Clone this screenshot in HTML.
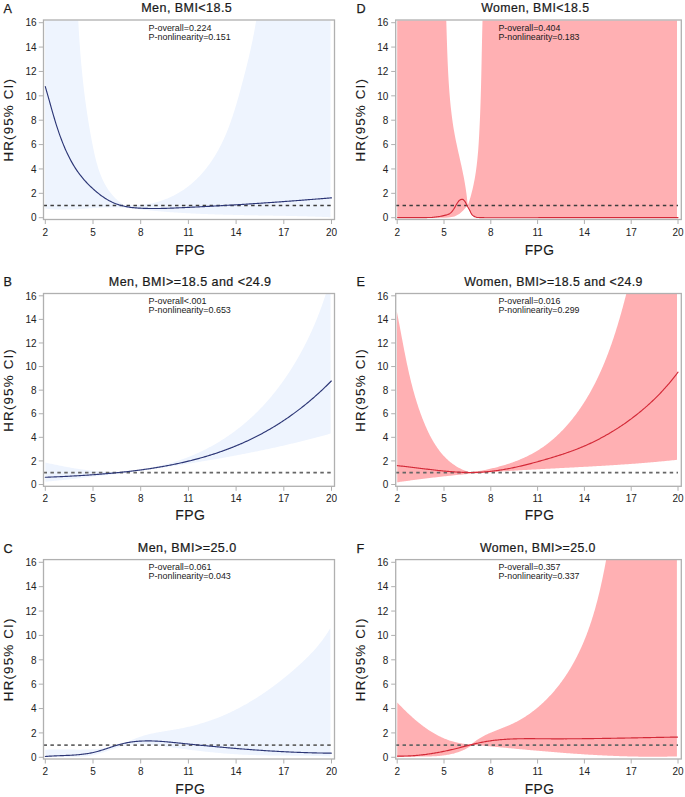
<!DOCTYPE html>
<html><head><meta charset="utf-8"><style>
html,body{margin:0;padding:0;background:#fff;}
body{width:685px;height:797px;overflow:hidden;}
svg{display:block;}
text{font-family:"Liberation Sans",sans-serif;fill:#1a1a1a;}
.tl{font-size:10px;fill:#222;}
.al{font-size:14px;letter-spacing:0.5px;stroke:#1a1a1a;stroke-width:0.12px;}
.hr{font-size:13.4px;letter-spacing:1.15px;stroke:#1a1a1a;stroke-width:0.1px;}
.ti{font-size:12.3px;letter-spacing:0.42px;stroke:#1a1a1a;stroke-width:0.22px;}
.cL .ti{font-size:12.55px;letter-spacing:0.43px;}
.cR .pv{font-size:8.8px;}
.cR .al{font-size:13.8px;}
.le{font-size:12.6px;stroke:#1a1a1a;stroke-width:0.25px;}
.pv{font-size:8.95px;}
</style></head><body>
<svg width="685" height="797" viewBox="0 0 685 797">
<rect width="685" height="797" fill="#fff"/>
<clipPath id="clipA"><rect x="44" y="20.5" width="290" height="198.5"/></clipPath>
<g clip-path="url(#clipA)">
<polygon points="45.1,2 77.41,1.93 77.46,2.94 77.5,3.96 77.54,4.97 77.58,5.98 77.62,7 77.67,8.01 77.71,9.02 77.76,10.03 77.8,11.04 77.85,12.05 77.9,13.06 77.94,14.07 77.99,15.08 78.04,16.09 78.09,17.1 78.14,18.11 78.19,19.12 78.24,20.12 78.29,21.13 78.35,22.14 78.4,23.14 78.45,24.15 78.51,25.15 78.57,26.16 78.62,27.16 78.68,28.17 78.74,29.17 78.8,30.18 78.85,31.18 78.91,32.18 78.98,33.18 79.04,34.19 79.1,35.19 79.16,36.19 79.23,37.19 79.29,38.19 79.36,39.19 79.42,40.19 79.49,41.19 79.56,42.19 79.63,43.19 79.7,44.19 79.77,45.19 79.84,46.19 79.91,47.19 79.99,48.19 80.06,49.18 80.14,50.18 80.21,51.18 80.29,52.18 80.37,53.17 80.45,54.17 80.53,55.17 80.61,56.16 80.69,57.16 80.77,58.16 80.86,59.15 80.94,60.15 81.03,61.14 81.12,62.14 81.2,63.14 81.29,64.13 81.38,65.13 81.47,66.12 81.56,67.12 81.66,68.11 81.75,69.1 81.85,70.1 81.94,71.09 82.04,72.09 82.14,73.08 82.24,74.08 82.34,75.07 82.44,76.06 82.54,77.06 82.65,78.05 82.75,79.04 82.86,80.04 82.96,81.03 83.07,82.02 83.18,83.02 83.29,84.01 83.41,85 83.52,86 83.63,86.99 83.75,87.98 83.86,88.98 83.98,89.97 84.1,90.96 84.22,91.96 84.34,92.95 84.47,93.94 84.59,94.94 84.72,95.93 84.84,96.92 84.97,97.92 85.1,98.91 85.23,99.9 85.36,100.9 85.49,101.89 85.63,102.88 85.76,103.88 85.9,104.87 86.04,105.87 86.18,106.86 86.32,107.85 86.46,108.85 86.61,109.84 86.75,110.84 86.9,111.83 87.05,112.83 87.2,113.82 87.35,114.82 87.5,115.81 87.65,116.81 87.81,117.8 87.96,118.8 88.12,119.79 88.28,120.79 88.44,121.78 88.6,122.78 88.77,123.78 88.93,124.77 89.1,125.77 89.27,126.77 89.44,127.77 89.61,128.76 89.78,129.76 89.95,130.76 90.13,131.76 90.31,132.75 90.49,133.75 90.67,134.75 90.85,135.75 91.03,136.75 91.22,137.75 91.4,138.75 91.59,139.75 91.78,140.75 91.97,141.75 92.17,142.75 92.36,143.75 92.56,144.76 92.75,145.76 92.95,146.76 93.16,147.76 93.36,148.76 93.57,149.76 93.78,150.76 93.99,151.76 94.21,152.76 94.43,153.76 94.66,154.75 94.89,155.75 95.12,156.74 95.36,157.73 95.6,158.72 95.85,159.7 96.1,160.68 96.36,161.66 96.62,162.64 96.89,163.61 97.17,164.59 97.45,165.55 97.74,166.52 98.03,167.48 98.33,168.43 98.64,169.38 98.96,170.33 99.29,171.27 99.62,172.21 99.96,173.15 100.31,174.07 100.67,175 101.03,175.92 101.41,176.83 101.79,177.73 102.19,178.63 102.59,179.53 103.01,180.42 103.43,181.3 103.87,182.17 104.31,183.04 104.77,183.9 105.24,184.76 105.72,185.6 106.21,186.44 106.71,187.27 107.22,188.09 107.75,188.91 108.29,189.72 108.84,190.51 109.4,191.3 109.98,192.08 110.57,192.86 111.18,193.62 111.8,194.37 112.43,195.12 113.08,195.85 113.74,196.57 114.41,197.29 115.1,197.99 115.81,198.68 116.53,199.37 117.27,200.04 118.02,200.7 118.79,201.35 119.58,201.99 120.38,202.61 121.2,203.23 122.03,203.83 122.88,204.42 123.75,205 124.64,205.57 125.55,206.12 125.65,204.97 126.7,205.04 127.76,205.11 128.81,205.16 129.86,205.21 130.91,205.23 131.95,205.25 133,205.26 134.04,205.25 135.08,205.23 136.12,205.2 137.15,205.16 138.18,205.11 139.21,205.04 140.24,204.97 141.27,204.88 142.29,204.78 143.31,204.67 144.32,204.55 145.34,204.41 146.35,204.27 147.35,204.11 148.36,203.95 149.36,203.77 150.35,203.58 151.35,203.38 152.34,203.17 153.32,202.95 154.3,202.72 155.28,202.48 156.26,202.22 157.23,201.96 158.19,201.68 159.16,201.4 160.11,201.1 161.07,200.8 162.02,200.48 162.96,200.16 163.9,199.82 164.84,199.48 165.77,199.12 166.7,198.75 167.62,198.38 168.53,197.99 169.45,197.6 170.35,197.19 171.25,196.77 172.15,196.35 173.04,195.92 173.92,195.47 174.8,195.02 175.68,194.56 176.55,194.08 177.41,193.6 178.27,193.11 179.12,192.61 179.96,192.1 180.8,191.58 181.63,191.06 182.46,190.52 183.28,189.98 184.09,189.42 184.9,188.86 185.7,188.29 186.5,187.71 187.28,187.12 188.06,186.52 188.84,185.92 189.61,185.31 190.37,184.68 191.13,184.06 191.88,183.42 192.62,182.77 193.36,182.12 194.09,181.46 194.81,180.8 195.53,180.12 196.24,179.44 196.95,178.75 197.65,178.06 198.34,177.35 199.03,176.64 199.71,175.93 200.38,175.21 201.05,174.48 201.71,173.74 202.37,173 203.02,172.25 203.66,171.5 204.3,170.74 204.93,169.97 205.55,169.2 206.17,168.43 206.78,167.64 207.39,166.86 207.99,166.06 208.59,165.27 209.17,164.46 209.76,163.65 210.33,162.84 210.9,162.02 211.46,161.2 212.02,160.37 212.57,159.54 213.12,158.71 213.66,157.87 214.19,157.02 214.72,156.17 215.24,155.32 215.76,154.46 216.27,153.6 216.77,152.74 217.27,151.87 217.76,151 218.25,150.13 218.73,149.25 219.2,148.37 219.67,147.49 220.13,146.6 220.59,145.71 221.04,144.82 221.48,143.92 221.92,143.03 222.36,142.12 222.79,141.22 223.21,140.32 223.63,139.41 224.05,138.5 224.46,137.58 224.86,136.67 225.26,135.75 225.65,134.83 226.05,133.9 226.43,132.98 226.81,132.05 227.19,131.12 227.56,130.19 227.93,129.25 228.3,128.32 228.66,127.38 229.01,126.44 229.37,125.5 229.71,124.56 230.06,123.61 230.4,122.66 230.74,121.72 231.07,120.77 231.4,119.82 231.73,118.86 232.05,117.91 232.38,116.95 232.69,116 233.01,115.04 233.32,114.08 233.63,113.12 233.94,112.16 234.24,111.2 234.54,110.23 234.84,109.27 235.14,108.3 235.43,107.34 235.72,106.37 236.01,105.41 236.3,104.44 236.58,103.47 236.87,102.5 237.15,101.53 237.43,100.56 237.7,99.59 237.98,98.62 238.25,97.65 238.53,96.68 238.8,95.71 239.07,94.74 239.34,93.76 239.61,92.79 239.87,91.82 240.14,90.85 240.4,89.88 240.67,88.91 240.93,87.94 241.19,86.97 241.45,86 241.71,85.03 241.97,84.06 242.23,83.09 242.49,82.12 242.75,81.15 243.01,80.18 243.26,79.21 243.52,78.24 243.77,77.28 244.03,76.31 244.28,75.34 244.53,74.37 244.78,73.4 245.03,72.44 245.28,71.47 245.52,70.5 245.77,69.53 246.01,68.57 246.26,67.6 246.5,66.63 246.74,65.67 246.98,64.7 247.22,63.73 247.46,62.76 247.69,61.8 247.93,60.83 248.16,59.86 248.39,58.89 248.62,57.93 248.85,56.96 249.08,55.99 249.3,55.02 249.53,54.05 249.75,53.08 249.97,52.12 250.19,51.15 250.41,50.18 250.63,49.21 250.84,48.24 251.05,47.27 251.27,46.3 251.48,45.33 251.68,44.36 251.89,43.38 252.09,42.41 252.3,41.44 252.5,40.47 252.7,39.5 252.89,38.52 253.09,37.55 253.28,36.57 253.47,35.6 253.66,34.63 253.85,33.65 254.03,32.67 254.22,31.7 254.4,30.72 254.58,29.74 254.75,28.76 254.93,27.79 255.1,26.81 255.27,25.83 255.44,24.85 255.6,23.87 255.77,22.88 255.93,21.9 256.09,20.92 256.24,19.94 256.4,18.95 256.55,17.97 256.7,16.98 256.84,15.99 256.99,15.01 257.13,14.02 257.27,13.03 257.41,12.04 257.54,11.05 257.67,10.06 257.8,9.07 257.93,8.07 258.05,7.08 258.17,6.09 258.29,5.09 258.4,4.09 258.52,3.1 258.63,2.1 258.2,2 330.5,2 330.5,217.2 330.49,217.25 329.49,217.21 328.49,217.16 327.49,217.12 326.49,217.07 325.49,217.03 324.49,216.99 323.49,216.95 322.49,216.91 321.49,216.87 320.49,216.83 319.49,216.8 318.49,216.76 317.49,216.72 316.49,216.69 315.49,216.65 314.49,216.62 313.49,216.59 312.49,216.55 311.49,216.52 310.49,216.49 309.49,216.46 308.48,216.43 307.48,216.4 306.48,216.37 305.48,216.34 304.48,216.31 303.48,216.29 302.48,216.26 301.47,216.23 300.47,216.21 299.47,216.18 298.47,216.16 297.47,216.13 296.46,216.11 295.46,216.08 294.46,216.06 293.46,216.04 292.45,216.01 291.45,215.99 290.45,215.97 289.45,215.95 288.44,215.93 287.44,215.91 286.44,215.89 285.43,215.86 284.43,215.84 283.43,215.83 282.42,215.81 281.42,215.79 280.42,215.77 279.41,215.75 278.41,215.73 277.41,215.71 276.4,215.69 275.4,215.68 274.4,215.66 273.39,215.64 272.39,215.62 271.39,215.6 270.38,215.59 269.38,215.57 268.37,215.55 267.37,215.54 266.37,215.52 265.36,215.5 264.36,215.48 263.36,215.47 262.35,215.45 261.35,215.43 260.34,215.42 259.34,215.4 258.34,215.38 257.33,215.36 256.33,215.35 255.32,215.33 254.32,215.31 253.32,215.29 252.31,215.28 251.31,215.26 250.3,215.24 249.3,215.22 248.3,215.2 247.29,215.18 246.29,215.16 245.28,215.15 244.28,215.13 243.27,215.11 242.27,215.09 241.27,215.07 240.26,215.05 239.26,215.02 238.25,215 237.25,214.98 236.25,214.96 235.24,214.94 234.24,214.92 233.24,214.89 232.23,214.87 231.23,214.85 230.22,214.82 229.22,214.8 228.22,214.77 227.21,214.75 226.21,214.72 225.21,214.7 224.2,214.67 223.2,214.64 222.2,214.61 221.19,214.58 220.19,214.56 219.19,214.53 218.18,214.5 217.18,214.47 216.18,214.43 215.17,214.4 214.17,214.37 213.17,214.34 212.16,214.3 211.16,214.27 210.16,214.23 209.16,214.2 208.15,214.16 207.15,214.12 206.15,214.09 205.15,214.05 204.14,214.01 203.14,213.97 202.14,213.93 201.14,213.88 200.13,213.84 199.13,213.8 198.13,213.75 197.13,213.71 196.13,213.66 195.13,213.62 194.12,213.57 193.12,213.52 192.12,213.47 191.12,213.42 190.12,213.37 189.12,213.32 188.12,213.26 187.12,213.21 186.12,213.15 185.12,213.1 184.12,213.04 183.11,212.98 182.11,212.92 181.11,212.86 180.11,212.8 179.11,212.74 178.11,212.67 177.11,212.61 176.12,212.54 175.12,212.48 174.12,212.41 173.12,212.34 172.12,212.27 171.12,212.2 170.12,212.13 169.12,212.05 168.12,211.98 167.12,211.9 166.13,211.82 165.13,211.74 164.13,211.66 163.13,211.58 162.13,211.5 161.14,211.41 160.14,211.33 159.14,211.24 158.15,211.15 157.15,211.06 156.15,210.97 155.16,210.88 154.16,210.79 153.16,210.69 152.17,210.6 151.17,210.5 150.17,210.4 149.18,210.3 148.18,210.2 147.19,210.09 146.19,209.99 145.2,209.88 144.2,209.77 143.21,209.66 142.21,209.55 141.22,209.44 140.23,209.33 139.23,209.22 138.24,209.11 137.24,209 136.25,208.89 135.26,208.78 134.26,208.67 133.27,208.57 132.28,208.47 131.28,208.37 130.29,208.27 129.3,208.18 128.3,208.09 127.31,208.01 126.31,207.92 125.32,207.85 124.33,207.78 123.33,207.71 122.34,207.65 121.35,207.6 120.35,207.55 119.36,207.51 118.37,207.47 117.37,207.44 116.38,207.42 115.38,207.4 114.39,207.39 113.4,207.38 112.4,207.38 111.41,207.38 110.41,207.38 109.42,207.4 108.42,207.41 107.42,207.43 106.43,207.46 105.43,207.49 104.43,207.52 103.44,207.56 102.44,207.6 101.44,207.64 100.45,207.69 99.45,207.74 98.45,207.79 97.45,207.84 96.45,207.9 95.45,207.96 94.45,208.02 93.45,208.08 92.45,208.15 91.45,208.21 90.45,208.28 89.45,208.35 88.44,208.41 87.44,208.48 86.44,208.55 85.44,208.62 84.43,208.68 83.43,208.75 82.43,208.82 81.43,208.88 80.42,208.95 79.42,209.01 78.42,209.07 77.41,209.13 76.41,209.18 75.4,209.24 74.4,209.29 73.4,209.34 72.39,209.38 71.39,209.42 70.38,209.46 69.38,209.5 68.37,209.53 67.37,209.55 66.37,209.58 65.36,209.59 64.36,209.6 63.35,209.61 62.35,209.61 61.35,209.61 60.34,209.6 59.34,209.58 58.33,209.56 57.33,209.53 56.33,209.5 55.32,209.45 54.32,209.4 53.32,209.35 52.31,209.28 51.31,209.21 50.31,209.13 49.3,209.04 48.3,208.94 47.3,208.83 46.3,208.72 45.3,208.59 45.1,208.6" fill="#eef4fe"/>
<line x1="43.5" y1="205.51" x2="331.5" y2="205.51" stroke="#3d3d3d" stroke-width="1.3" stroke-dasharray="3.5 3.42"/>
<polyline points="45.3,86.6 46.3,90.06 47.3,93.57 48.3,97.12 49.3,100.69 50.3,104.27 51.3,107.83 52.3,111.36 53.31,114.84 54.31,118.25 55.31,121.58 56.31,124.8 57.31,127.92 58.31,130.92 59.31,133.82 60.31,136.62 61.31,139.31 62.31,141.91 63.31,144.41 64.31,146.82 65.31,149.15 66.31,151.38 67.32,153.53 68.32,155.61 69.32,157.6 70.32,159.52 71.32,161.37 72.32,163.15 73.32,164.86 74.32,166.51 75.32,168.1 76.32,169.62 77.32,171.09 78.32,172.51 79.32,173.88 80.32,175.2 81.33,176.47 82.33,177.7 83.33,178.89 84.33,180.04 85.33,181.16 86.33,182.24 87.33,183.29 88.33,184.32 89.33,185.32 90.33,186.3 91.33,187.26 92.33,188.19 93.33,189.11 94.33,190.01 95.33,190.88 96.34,191.73 97.34,192.57 98.34,193.37 99.34,194.16 100.34,194.93 101.34,195.67 102.34,196.39 103.34,197.08 104.34,197.76 105.34,198.41 106.34,199.03 107.34,199.63 108.34,200.21 109.34,200.77 110.35,201.3 111.35,201.8 112.35,202.28 113.35,202.73 114.35,203.16 115.35,203.57 116.35,203.95 117.35,204.31 118.35,204.65 119.35,204.97 120.35,205.27 121.35,205.55 122.35,205.81 123.35,206.05 124.36,206.28 125.36,206.49 126.36,206.68 127.36,206.86 128.36,207.03 129.36,207.18 130.36,207.32 131.36,207.45 132.36,207.56 133.36,207.67 134.36,207.77 135.36,207.85 136.36,207.93 137.36,208 138.37,208.07 139.37,208.13 140.37,208.18 141.37,208.23 142.37,208.28 143.37,208.32 144.37,208.36 145.37,208.39 146.37,208.42 147.37,208.44 148.37,208.47 149.37,208.48 150.37,208.5 151.37,208.51 152.37,208.51 153.38,208.52 154.38,208.52 155.38,208.51 156.38,208.51 157.38,208.5 158.38,208.49 159.38,208.47 160.38,208.46 161.38,208.44 162.38,208.42 163.38,208.39 164.38,208.37 165.38,208.34 166.38,208.31 167.39,208.28 168.39,208.24 169.39,208.21 170.39,208.17 171.39,208.14 172.39,208.1 173.39,208.06 174.39,208.02 175.39,207.97 176.39,207.93 177.39,207.89 178.39,207.84 179.39,207.8 180.39,207.76 181.4,207.71 182.4,207.66 183.4,207.62 184.4,207.57 185.4,207.53 186.4,207.48 187.4,207.43 188.4,207.39 189.4,207.34 190.4,207.29 191.4,207.24 192.4,207.19 193.4,207.14 194.4,207.09 195.4,207.05 196.41,207 197.41,206.95 198.41,206.89 199.41,206.84 200.41,206.79 201.41,206.74 202.41,206.69 203.41,206.64 204.41,206.59 205.41,206.53 206.41,206.48 207.41,206.43 208.41,206.37 209.41,206.32 210.42,206.27 211.42,206.21 212.42,206.16 213.42,206.1 214.42,206.05 215.42,205.99 216.42,205.94 217.42,205.88 218.42,205.82 219.42,205.77 220.42,205.71 221.42,205.65 222.42,205.6 223.42,205.54 224.43,205.48 225.43,205.42 226.43,205.36 227.43,205.3 228.43,205.25 229.43,205.19 230.43,205.13 231.43,205.07 232.43,205.01 233.43,204.95 234.43,204.89 235.43,204.82 236.43,204.76 237.43,204.7 238.43,204.64 239.44,204.58 240.44,204.51 241.44,204.45 242.44,204.39 243.44,204.33 244.44,204.26 245.44,204.2 246.44,204.14 247.44,204.07 248.44,204.01 249.44,203.94 250.44,203.88 251.44,203.81 252.44,203.75 253.45,203.68 254.45,203.61 255.45,203.55 256.45,203.48 257.45,203.41 258.45,203.35 259.45,203.28 260.45,203.21 261.45,203.14 262.45,203.08 263.45,203.01 264.45,202.94 265.45,202.87 266.45,202.8 267.46,202.73 268.46,202.66 269.46,202.59 270.46,202.52 271.46,202.45 272.46,202.38 273.46,202.31 274.46,202.24 275.46,202.17 276.46,202.1 277.46,202.03 278.46,201.95 279.46,201.88 280.46,201.81 281.47,201.74 282.47,201.66 283.47,201.59 284.47,201.52 285.47,201.44 286.47,201.37 287.47,201.3 288.47,201.22 289.47,201.15 290.47,201.07 291.47,201 292.47,200.92 293.47,200.85 294.47,200.77 295.47,200.7 296.48,200.62 297.48,200.54 298.48,200.47 299.48,200.39 300.48,200.31 301.48,200.24 302.48,200.16 303.48,200.08 304.48,200 305.48,199.93 306.48,199.85 307.48,199.77 308.48,199.69 309.48,199.61 310.49,199.53 311.49,199.45 312.49,199.37 313.49,199.29 314.49,199.21 315.49,199.13 316.49,199.05 317.49,198.97 318.49,198.89 319.49,198.81 320.49,198.73 321.49,198.65 322.49,198.57 323.49,198.49 324.5,198.4 325.5,198.32 326.5,198.24 327.5,198.16 328.5,198.07 329.5,197.99 330.5,197.91 331.5,197.82" fill="none" stroke="#2c3676" stroke-width="1.15" stroke-linejoin="round" stroke-linecap="round"/>
</g>
<rect x="43.5" y="20" width="291" height="199.5" fill="none" stroke="#b0b0b0" stroke-width="1.3"/>
<line x1="38.8" y1="217.7" x2="43.5" y2="217.7" stroke="#b0b0b0" stroke-width="1"/>
<text x="36.6" y="221.4" class="tl" text-anchor="end">0</text>
<line x1="38.8" y1="193.32" x2="43.5" y2="193.32" stroke="#b0b0b0" stroke-width="1"/>
<text x="36.6" y="197.02" class="tl" text-anchor="end">2</text>
<line x1="38.8" y1="168.95" x2="43.5" y2="168.95" stroke="#b0b0b0" stroke-width="1"/>
<text x="36.6" y="172.65" class="tl" text-anchor="end">4</text>
<line x1="38.8" y1="144.57" x2="43.5" y2="144.57" stroke="#b0b0b0" stroke-width="1"/>
<text x="36.6" y="148.27" class="tl" text-anchor="end">6</text>
<line x1="38.8" y1="120.2" x2="43.5" y2="120.2" stroke="#b0b0b0" stroke-width="1"/>
<text x="36.6" y="123.9" class="tl" text-anchor="end">8</text>
<line x1="38.8" y1="95.82" x2="43.5" y2="95.82" stroke="#b0b0b0" stroke-width="1"/>
<text x="36.6" y="99.52" class="tl" text-anchor="end">10</text>
<line x1="38.8" y1="71.45" x2="43.5" y2="71.45" stroke="#b0b0b0" stroke-width="1"/>
<text x="36.6" y="75.15" class="tl" text-anchor="end">12</text>
<line x1="38.8" y1="47.07" x2="43.5" y2="47.07" stroke="#b0b0b0" stroke-width="1"/>
<text x="36.6" y="50.77" class="tl" text-anchor="end">14</text>
<line x1="38.8" y1="22.7" x2="43.5" y2="22.7" stroke="#b0b0b0" stroke-width="1"/>
<text x="36.6" y="26.4" class="tl" text-anchor="end">16</text>
<line x1="45.3" y1="219.5" x2="45.3" y2="224" stroke="#b0b0b0" stroke-width="1"/>
<text x="45.3" y="235.8" class="tl" text-anchor="middle">2</text>
<line x1="93" y1="219.5" x2="93" y2="224" stroke="#b0b0b0" stroke-width="1"/>
<text x="93" y="235.8" class="tl" text-anchor="middle">5</text>
<line x1="140.7" y1="219.5" x2="140.7" y2="224" stroke="#b0b0b0" stroke-width="1"/>
<text x="140.7" y="235.8" class="tl" text-anchor="middle">8</text>
<line x1="188.4" y1="219.5" x2="188.4" y2="224" stroke="#b0b0b0" stroke-width="1"/>
<text x="188.4" y="235.8" class="tl" text-anchor="middle">11</text>
<line x1="236.1" y1="219.5" x2="236.1" y2="224" stroke="#b0b0b0" stroke-width="1"/>
<text x="236.1" y="235.8" class="tl" text-anchor="middle">14</text>
<line x1="283.8" y1="219.5" x2="283.8" y2="224" stroke="#b0b0b0" stroke-width="1"/>
<text x="283.8" y="235.8" class="tl" text-anchor="middle">17</text>
<line x1="331.5" y1="219.5" x2="331.5" y2="224" stroke="#b0b0b0" stroke-width="1"/>
<text x="331.5" y="235.8" class="tl" text-anchor="middle">20</text>
<g class="cL">
<text x="190.3" y="254.8" class="al" text-anchor="middle">FPG</text>
<text class="hr" text-anchor="middle" transform="translate(13.2,119.75) rotate(-90)">HR(95% CI)</text>
<text x="141.2" y="12.4" class="ti">Men, BMI&lt;18.5</text>
<text x="3.6" y="12.9" class="le">A</text>
<text x="148.5" y="30.7" class="pv">P-overall=0.224</text>
<text x="148.5" y="39.6" class="pv">P-nonlinearity=0.151</text>
</g>
<clipPath id="clipB"><rect x="44" y="294" width="290" height="191.8"/></clipPath>
<g clip-path="url(#clipB)">
<polygon points="45.3,462.58 46.29,462.79 47.27,463.01 48.26,463.22 49.24,463.43 50.23,463.64 51.21,463.85 52.2,464.05 53.18,464.26 54.17,464.46 55.15,464.67 56.14,464.87 57.13,465.07 58.11,465.27 59.1,465.47 60.09,465.67 61.08,465.86 62.06,466.06 63.05,466.25 64.04,466.44 65.03,466.63 66.02,466.81 67.01,467 67.99,467.18 68.98,467.36 69.97,467.53 70.96,467.71 71.95,467.88 72.94,468.05 73.93,468.22 74.92,468.38 75.91,468.55 76.9,468.7 77.89,468.86 78.88,469.01 79.87,469.16 80.86,469.31 81.85,469.46 82.85,469.6 83.84,469.73 84.83,469.87 85.82,470 86.81,470.13 87.8,470.25 88.8,470.37 89.79,470.49 90.78,470.6 91.77,470.71 92.76,470.81 93.76,470.91 94.75,471.01 95.74,471.1 96.73,471.19 97.73,471.28 98.72,471.36 99.71,471.43 100.71,471.5 101.7,471.57 102.69,471.63 103.68,471.69 104.68,471.74 105.67,471.79 106.66,471.83 107.66,471.87 108.65,471.9 109.64,471.93 110.64,471.95 111.63,471.97 112.62,471.98 113.62,471.98 114.61,471.99 115.6,471.98 116.6,471.97 117.59,471.95 118.58,471.93 119.58,471.9 120.57,471.87 121.56,471.83 122.56,471.79 123.55,471.73 124.54,471.68 125.54,471.61 126.53,471.54 127.52,471.46 128.52,471.38 129.51,471.29 130.5,471.19 131.5,471.09 132.49,470.98 133.48,470.87 134.48,470.75 135.47,470.62 136.46,470.49 137.45,470.36 138.44,470.21 139.43,470.06 140.43,469.91 141.42,469.75 142.41,469.59 143.4,469.42 144.39,469.24 145.38,469.07 146.37,468.88 147.35,468.69 148.34,468.5 149.33,468.3 150.32,468.1 151.3,467.89 152.29,467.68 153.27,467.47 154.26,467.25 155.24,467.03 156.23,466.8 157.21,466.57 158.19,466.33 159.17,466.1 160.15,465.85 161.13,465.61 162.11,465.36 163.09,465.11 164.07,464.85 165.04,464.59 166.02,464.33 166.99,464.07 167.97,463.8 168.94,463.52 169.91,463.25 170.88,462.97 171.85,462.68 172.82,462.39 173.78,462.1 174.74,461.81 175.71,461.5 176.67,461.2 177.63,460.89 178.58,460.57 179.54,460.26 180.49,459.93 181.44,459.6 182.39,459.27 183.34,458.93 184.28,458.59 185.22,458.24 186.16,457.89 187.1,457.53 188.04,457.17 188.97,456.8 189.9,456.43 190.83,456.05 191.76,455.67 192.68,455.29 193.6,454.9 194.53,454.5 195.44,454.11 196.36,453.7 197.27,453.29 198.18,452.88 199.09,452.46 200,452.04 200.9,451.61 201.81,451.18 202.7,450.75 203.6,450.31 204.5,449.86 205.39,449.42 206.28,448.96 207.17,448.51 208.05,448.04 208.93,447.58 209.81,447.11 210.69,446.63 211.57,446.15 212.44,445.67 213.31,445.18 214.18,444.69 215.04,444.19 215.91,443.69 216.77,443.19 217.62,442.68 218.48,442.16 219.33,441.65 220.18,441.13 221.03,440.6 221.87,440.07 222.71,439.54 223.55,439 224.39,438.45 225.22,437.91 226.05,437.36 226.88,436.8 227.71,436.24 228.53,435.68 229.35,435.11 230.17,434.54 230.98,433.97 231.79,433.39 232.6,432.81 233.41,432.22 234.21,431.63 235.01,431.04 235.81,430.44 236.6,429.84 237.39,429.23 238.18,428.62 238.97,428.01 239.75,427.39 240.53,426.77 241.31,426.14 242.08,425.51 242.85,424.88 243.62,424.24 244.39,423.6 245.15,422.96 245.91,422.31 246.66,421.66 247.42,421 248.17,420.34 248.91,419.68 249.66,419.02 250.4,418.35 251.14,417.67 251.87,417 252.6,416.31 253.33,415.63 254.06,414.94 254.78,414.25 255.5,413.56 256.21,412.86 256.92,412.16 257.63,411.45 258.34,410.74 259.04,410.03 259.74,409.31 260.44,408.6 261.13,407.87 261.82,407.15 262.51,406.42 263.19,405.69 263.87,404.95 264.55,404.21 265.22,403.47 265.89,402.73 266.56,401.98 267.22,401.23 267.88,400.48 268.54,399.72 269.2,398.96 269.85,398.2 270.5,397.43 271.14,396.66 271.78,395.89 272.42,395.12 273.06,394.34 273.69,393.56 274.32,392.78 274.95,391.99 275.57,391.2 276.19,390.41 276.81,389.62 277.42,388.82 278.03,388.03 278.64,387.23 279.24,386.42 279.85,385.62 280.44,384.81 281.04,384 281.63,383.18 282.22,382.37 282.81,381.55 283.39,380.73 283.97,379.91 284.54,379.08 285.12,378.26 285.69,377.43 286.26,376.6 286.82,375.77 287.38,374.93 287.94,374.09 288.49,373.25 289.05,372.41 289.6,371.57 290.14,370.72 290.68,369.88 291.22,369.03 291.76,368.18 292.29,367.32 292.83,366.47 293.35,365.61 293.88,364.76 294.4,363.9 294.92,363.03 295.43,362.17 295.95,361.31 296.45,360.44 296.96,359.57 297.46,358.7 297.97,357.83 298.46,356.96 298.96,356.09 299.45,355.21 299.94,354.34 300.42,353.46 300.9,352.58 301.38,351.7 301.86,350.82 302.33,349.93 302.8,349.05 303.27,348.17 303.74,347.28 304.2,346.39 304.66,345.5 305.11,344.61 305.57,343.72 306.02,342.83 306.46,341.94 306.91,341.04 307.35,340.15 307.79,339.25 308.22,338.36 308.65,337.46 309.08,336.56 309.51,335.66 309.93,334.76 310.35,333.85 310.77,332.95 311.19,332.05 311.6,331.14 312.01,330.23 312.41,329.32 312.82,328.41 313.22,327.5 313.62,326.59 314.01,325.68 314.4,324.76 314.79,323.84 315.18,322.93 315.57,322.01 315.95,321.09 316.33,320.17 316.7,319.24 317.08,318.32 317.45,317.4 317.81,316.47 318.18,315.54 318.54,314.61 318.9,313.68 319.26,312.75 319.61,311.81 319.96,310.88 320.31,309.94 320.66,309.01 321,308.07 321.35,307.13 321.68,306.18 322.02,305.24 322.35,304.29 322.68,303.35 323.01,302.4 323.34,301.45 323.66,300.5 323.98,299.55 324.3,298.59 324.62,297.64 324.93,296.68 325.24,295.72 325.55,294.76 325.85,293.8 326.15,292.83 326.46,291.87 326.75,290.9 327.05,289.93 327.34,288.96 327.63,287.99 327.5,288 330.5,288 330.63,433.56 329.66,433.84 328.7,434.11 327.73,434.38 326.77,434.65 325.81,434.91 324.84,435.18 323.87,435.45 322.91,435.71 321.94,435.97 320.98,436.24 320.01,436.5 319.04,436.76 318.08,437.02 317.11,437.28 316.14,437.53 315.17,437.79 314.2,438.04 313.23,438.3 312.27,438.55 311.3,438.8 310.33,439.05 309.36,439.3 308.39,439.55 307.42,439.8 306.45,440.04 305.48,440.29 304.51,440.53 303.53,440.78 302.56,441.02 301.59,441.26 300.62,441.5 299.65,441.74 298.67,441.98 297.7,442.22 296.73,442.46 295.76,442.69 294.78,442.93 293.81,443.16 292.83,443.39 291.86,443.62 290.89,443.85 289.91,444.08 288.94,444.31 287.96,444.54 286.99,444.77 286.01,445 285.04,445.22 284.06,445.45 283.08,445.67 282.11,445.89 281.13,446.11 280.15,446.33 279.18,446.55 278.2,446.77 277.22,446.99 276.24,447.21 275.27,447.43 274.29,447.64 273.31,447.86 272.33,448.07 271.35,448.28 270.37,448.49 269.39,448.71 268.41,448.92 267.43,449.13 266.45,449.33 265.47,449.54 264.49,449.75 263.51,449.96 262.53,450.16 261.55,450.37 260.57,450.57 259.59,450.77 258.61,450.98 257.63,451.18 256.65,451.38 255.66,451.58 254.68,451.78 253.7,451.98 252.72,452.18 251.74,452.37 250.75,452.57 249.77,452.76 248.79,452.96 247.8,453.15 246.82,453.35 245.84,453.54 244.85,453.73 243.87,453.92 242.89,454.11 241.9,454.3 240.92,454.49 239.93,454.68 238.95,454.87 237.96,455.05 236.98,455.24 235.99,455.43 235.01,455.61 234.02,455.8 233.04,455.98 232.05,456.16 231.06,456.34 230.08,456.53 229.09,456.71 228.11,456.89 227.12,457.07 226.13,457.25 225.15,457.42 224.16,457.6 223.17,457.78 222.19,457.96 221.2,458.13 220.21,458.31 219.22,458.48 218.24,458.66 217.25,458.83 216.26,459 215.27,459.18 214.28,459.35 213.3,459.52 212.31,459.69 211.32,459.86 210.33,460.03 209.34,460.2 208.35,460.37 207.37,460.54 206.38,460.7 205.39,460.87 204.4,461.04 203.41,461.2 202.42,461.37 201.43,461.53 200.44,461.7 199.45,461.86 198.46,462.02 197.47,462.19 196.48,462.35 195.49,462.51 194.5,462.67 193.51,462.83 192.52,462.99 191.53,463.15 190.54,463.31 189.55,463.47 188.56,463.63 187.57,463.79 186.58,463.95 185.59,464.1 184.6,464.26 183.6,464.42 182.61,464.57 181.62,464.73 180.63,464.88 179.64,465.04 178.65,465.19 177.66,465.34 176.66,465.5 175.67,465.65 174.68,465.8 173.69,465.95 172.7,466.1 171.71,466.25 170.71,466.4 169.72,466.55 168.73,466.7 167.74,466.85 166.74,467 165.75,467.14 164.76,467.29 163.77,467.44 162.77,467.58 161.78,467.73 160.79,467.87 159.8,468.02 158.8,468.16 157.81,468.31 156.82,468.45 155.82,468.59 154.83,468.73 153.84,468.88 152.85,469.02 151.85,469.16 150.86,469.3 149.87,469.44 148.87,469.58 147.88,469.72 146.88,469.86 145.89,469.99 144.9,470.13 143.9,470.27 142.91,470.41 141.92,470.54 140.92,470.68 139.93,470.81 138.93,470.95 137.94,471.08 136.95,471.22 135.95,471.35 134.96,471.48 133.96,471.62 132.97,471.75 131.97,471.88 130.98,472.01 129.99,472.14 128.99,472.27 128,472.4 127,472.53 126.01,472.66 125.01,472.79 124.02,472.92 123.02,473.05 122.03,473.18 121.03,473.3 120.04,473.43 119.04,473.56 118.05,473.68 117.06,473.81 116.06,473.93 115.07,474.06 114.07,474.18 113.08,474.3 112.08,474.43 111.09,474.55 110.09,474.67 109.09,474.79 108.1,474.91 107.1,475.04 106.11,475.16 105.11,475.28 104.12,475.4 103.12,475.52 102.13,475.63 101.13,475.75 100.14,475.87 99.14,475.99 98.15,476.11 97.15,476.22 96.16,476.34 95.16,476.46 94.16,476.57 93.17,476.69 92.17,476.8 91.18,476.92 90.18,477.03 89.19,477.14 88.19,477.26 87.2,477.37 86.2,477.48 85.2,477.59 84.21,477.7 83.21,477.82 82.22,477.93 81.22,478.04 80.23,478.15 79.23,478.26 78.24,478.37 77.24,478.47 76.24,478.58 75.25,478.69 74.25,478.8 73.26,478.91 72.26,479.01 71.27,479.12 70.27,479.22 69.27,479.33 68.28,479.43 67.28,479.54 66.29,479.64 65.29,479.75 64.3,479.85 63.3,479.95 62.3,480.06 61.31,480.16 60.31,480.26 59.32,480.36 58.32,480.46 57.33,480.57 56.33,480.67 55.34,480.77 54.34,480.87 53.34,480.97 52.35,481.06 51.35,481.16 50.36,481.26 49.36,481.36 48.37,481.46 47.37,481.55 46.38,481.65 45.38,481.75" fill="#eef4fe"/>
<line x1="43.5" y1="472.71" x2="331.5" y2="472.71" stroke="#666666" stroke-width="1.7" stroke-dasharray="3.5 3.42"/>
<polyline points="45.3,477.27 46.3,477.24 47.3,477.2 48.3,477.16 49.3,477.12 50.3,477.08 51.3,477.04 52.3,477 53.3,476.96 54.3,476.92 55.3,476.88 56.3,476.83 57.3,476.79 58.3,476.75 59.3,476.7 60.3,476.66 61.3,476.61 62.3,476.56 63.3,476.52 64.3,476.47 65.3,476.42 66.3,476.37 67.3,476.32 68.3,476.27 69.3,476.21 70.3,476.16 71.3,476.11 72.3,476.05 73.3,476 74.3,475.94 75.3,475.89 76.3,475.83 77.3,475.77 78.3,475.71 79.3,475.65 80.3,475.59 81.3,475.53 82.3,475.47 83.3,475.4 84.3,475.34 85.3,475.28 86.3,475.21 87.3,475.14 88.3,475.08 89.3,475.01 90.3,474.94 91.3,474.87 92.3,474.8 93.3,474.72 94.3,474.65 95.3,474.58 96.3,474.5 97.3,474.42 98.3,474.35 99.3,474.27 100.3,474.19 101.3,474.11 102.3,474.03 103.3,473.94 104.3,473.86 105.3,473.78 106.3,473.69 107.3,473.6 108.3,473.52 109.3,473.43 110.3,473.34 111.3,473.24 112.3,473.15 113.3,473.06 114.3,472.96 115.3,472.86 116.3,472.77 117.3,472.67 118.3,472.57 119.3,472.46 120.3,472.36 121.3,472.26 122.3,472.15 123.3,472.04 124.3,471.93 125.3,471.82 126.3,471.71 127.3,471.6 128.3,471.49 129.3,471.37 130.3,471.25 131.3,471.13 132.3,471.01 133.3,470.89 134.3,470.77 135.3,470.64 136.3,470.52 137.3,470.39 138.3,470.26 139.3,470.12 140.3,469.99 141.3,469.86 142.3,469.72 143.3,469.58 144.3,469.44 145.3,469.3 146.3,469.15 147.3,469.01 148.3,468.86 149.3,468.71 150.3,468.56 151.3,468.41 152.3,468.25 153.3,468.09 154.3,467.93 155.3,467.77 156.3,467.61 157.3,467.44 158.3,467.28 159.3,467.11 160.3,466.94 161.3,466.76 162.3,466.59 163.3,466.41 164.3,466.23 165.3,466.04 166.3,465.86 167.3,465.67 168.3,465.48 169.3,465.29 170.3,465.1 171.3,464.9 172.3,464.7 173.3,464.5 174.3,464.3 175.3,464.09 176.3,463.88 177.3,463.67 178.3,463.46 179.3,463.24 180.3,463.02 181.3,462.8 182.3,462.58 183.3,462.35 184.3,462.12 185.3,461.89 186.3,461.65 187.3,461.42 188.3,461.18 189.3,460.93 190.3,460.69 191.3,460.44 192.3,460.18 193.3,459.93 194.3,459.67 195.3,459.41 196.3,459.15 197.3,458.88 198.3,458.61 199.3,458.34 200.3,458.06 201.3,457.78 202.3,457.5 203.3,457.21 204.3,456.92 205.3,456.63 206.3,456.33 207.3,456.03 208.3,455.73 209.3,455.42 210.3,455.11 211.3,454.8 212.3,454.48 213.3,454.16 214.3,453.84 215.3,453.51 216.3,453.18 217.3,452.84 218.3,452.5 219.3,452.16 220.3,451.82 221.3,451.47 222.3,451.11 223.3,450.75 224.3,450.39 225.3,450.03 226.3,449.66 227.3,449.28 228.3,448.9 229.3,448.52 230.3,448.14 231.3,447.75 232.3,447.35 233.3,446.95 234.3,446.55 235.3,446.14 236.3,445.73 237.3,445.32 238.3,444.9 239.3,444.47 240.3,444.04 241.3,443.61 242.3,443.17 243.3,442.73 244.3,442.28 245.3,441.83 246.3,441.37 247.3,440.91 248.3,440.44 249.3,439.97 250.3,439.5 251.3,439.02 252.3,438.53 253.3,438.04 254.3,437.54 255.3,437.04 256.3,436.54 257.3,436.03 258.3,435.51 259.3,434.99 260.3,434.46 261.3,433.93 262.3,433.39 263.3,432.85 264.3,432.3 265.3,431.75 266.3,431.19 267.3,430.62 268.3,430.05 269.3,429.48 270.3,428.9 271.3,428.31 272.3,427.72 273.3,427.12 274.3,426.51 275.3,425.9 276.3,425.29 277.3,424.67 278.3,424.04 279.3,423.4 280.3,422.76 281.3,422.12 282.3,421.47 283.3,420.81 284.3,420.14 285.3,419.47 286.3,418.79 287.3,418.11 288.3,417.42 289.3,416.72 290.3,416.02 291.3,415.31 292.3,414.59 293.3,413.87 294.3,413.14 295.3,412.41 296.3,411.66 297.3,410.91 298.3,410.16 299.3,409.39 300.3,408.62 301.3,407.84 302.3,407.06 303.3,406.27 304.3,405.47 305.3,404.66 306.3,403.85 307.3,403.03 308.3,402.2 309.3,401.36 310.3,400.52 311.3,399.67 312.3,398.81 313.3,397.95 314.3,397.07 315.3,396.19 316.3,395.3 317.3,394.41 318.3,393.5 319.3,392.59 320.3,391.67 321.3,390.74 322.3,389.81 323.3,388.86 324.3,387.91 325.3,386.95 326.3,385.98 327.3,385 328.3,384.02 329.3,383.02 330.3,382.02 331.3,381.01" fill="none" stroke="#2c3676" stroke-width="1.15" stroke-linejoin="round" stroke-linecap="round"/>
</g>
<rect x="43.5" y="293.5" width="291" height="192.8" fill="none" stroke="#b0b0b0" stroke-width="1.3"/>
<line x1="38.8" y1="484.5" x2="43.5" y2="484.5" stroke="#b0b0b0" stroke-width="1"/>
<text x="36.6" y="488.2" class="tl" text-anchor="end">0</text>
<line x1="38.8" y1="460.91" x2="43.5" y2="460.91" stroke="#b0b0b0" stroke-width="1"/>
<text x="36.6" y="464.61" class="tl" text-anchor="end">2</text>
<line x1="38.8" y1="437.32" x2="43.5" y2="437.32" stroke="#b0b0b0" stroke-width="1"/>
<text x="36.6" y="441.02" class="tl" text-anchor="end">4</text>
<line x1="38.8" y1="413.74" x2="43.5" y2="413.74" stroke="#b0b0b0" stroke-width="1"/>
<text x="36.6" y="417.44" class="tl" text-anchor="end">6</text>
<line x1="38.8" y1="390.15" x2="43.5" y2="390.15" stroke="#b0b0b0" stroke-width="1"/>
<text x="36.6" y="393.85" class="tl" text-anchor="end">8</text>
<line x1="38.8" y1="366.56" x2="43.5" y2="366.56" stroke="#b0b0b0" stroke-width="1"/>
<text x="36.6" y="370.26" class="tl" text-anchor="end">10</text>
<line x1="38.8" y1="342.98" x2="43.5" y2="342.98" stroke="#b0b0b0" stroke-width="1"/>
<text x="36.6" y="346.68" class="tl" text-anchor="end">12</text>
<line x1="38.8" y1="319.39" x2="43.5" y2="319.39" stroke="#b0b0b0" stroke-width="1"/>
<text x="36.6" y="323.09" class="tl" text-anchor="end">14</text>
<line x1="38.8" y1="295.8" x2="43.5" y2="295.8" stroke="#b0b0b0" stroke-width="1"/>
<text x="36.6" y="299.5" class="tl" text-anchor="end">16</text>
<line x1="45.3" y1="486.3" x2="45.3" y2="490.8" stroke="#b0b0b0" stroke-width="1"/>
<text x="45.3" y="501.8" class="tl" text-anchor="middle">2</text>
<line x1="93" y1="486.3" x2="93" y2="490.8" stroke="#b0b0b0" stroke-width="1"/>
<text x="93" y="501.8" class="tl" text-anchor="middle">5</text>
<line x1="140.7" y1="486.3" x2="140.7" y2="490.8" stroke="#b0b0b0" stroke-width="1"/>
<text x="140.7" y="501.8" class="tl" text-anchor="middle">8</text>
<line x1="188.4" y1="486.3" x2="188.4" y2="490.8" stroke="#b0b0b0" stroke-width="1"/>
<text x="188.4" y="501.8" class="tl" text-anchor="middle">11</text>
<line x1="236.1" y1="486.3" x2="236.1" y2="490.8" stroke="#b0b0b0" stroke-width="1"/>
<text x="236.1" y="501.8" class="tl" text-anchor="middle">14</text>
<line x1="283.8" y1="486.3" x2="283.8" y2="490.8" stroke="#b0b0b0" stroke-width="1"/>
<text x="283.8" y="501.8" class="tl" text-anchor="middle">17</text>
<line x1="331.5" y1="486.3" x2="331.5" y2="490.8" stroke="#b0b0b0" stroke-width="1"/>
<text x="331.5" y="501.8" class="tl" text-anchor="middle">20</text>
<g class="cL">
<text x="190.3" y="520" class="al" text-anchor="middle">FPG</text>
<text class="hr" text-anchor="middle" transform="translate(13.2,389.9) rotate(-90)">HR(95% CI)</text>
<text x="108.8" y="286" class="ti">Men, BMI&gt;=18.5 and &lt;24.9</text>
<text x="3.6" y="286.4" class="le">B</text>
<text x="148.6" y="304" class="pv">P-overall&lt;.001</text>
<text x="148.6" y="312.9" class="pv">P-nonlinearity=0.653</text>
</g>
<clipPath id="clipC"><rect x="44" y="560.1" width="290" height="198.4"/></clipPath>
<g clip-path="url(#clipC)">
<polygon points="45.29,749.72 46.28,749.68 47.26,749.64 48.25,749.6 49.24,749.57 50.23,749.54 51.22,749.52 52.22,749.5 53.21,749.49 54.21,749.48 55.21,749.47 56.21,749.46 57.21,749.46 58.21,749.46 59.22,749.46 60.22,749.47 61.23,749.48 62.23,749.48 63.24,749.49 64.25,749.5 65.25,749.52 66.26,749.53 67.27,749.54 68.28,749.55 69.29,749.56 70.3,749.58 71.31,749.59 72.33,749.6 73.34,749.61 74.35,749.62 75.36,749.62 76.37,749.63 77.38,749.63 78.39,749.63 79.4,749.63 80.41,749.63 81.42,749.62 82.43,749.61 83.44,749.6 84.45,749.58 85.46,749.56 86.47,749.53 87.47,749.51 88.48,749.47 89.48,749.43 90.48,749.39 91.49,749.34 92.49,749.29 93.49,749.23 94.49,749.16 95.48,749.09 96.48,749.01 97.47,748.92 98.47,748.83 99.46,748.73 100.45,748.62 101.44,748.51 102.42,748.39 103.41,748.26 104.39,748.12 105.37,747.97 106.35,747.82 107.32,747.65 108.3,747.48 109.27,747.29 110.24,747.1 111.21,746.9 112.17,746.68 113.13,746.46 114.09,746.22 115.05,745.98 116,745.72 116.95,745.45 117.9,745.17 118.85,744.88 119.79,744.58 120.73,744.26 121.66,743.93 122.6,743.6 123.53,743.25 124.46,742.9 125.39,742.54 126.31,742.17 127.24,741.8 128.16,741.42 129.09,741.05 130.01,740.67 130.94,740.29 131.86,739.91 132.79,739.54 133.71,739.16 134.64,738.8 135.57,738.43 136.5,738.08 137.44,737.73 138.37,737.39 139.31,737.06 140.25,736.73 141.19,736.42 142.14,736.13 143.09,735.84 144.04,735.55 145,735.28 145.96,735.02 146.92,734.77 147.88,734.52 148.84,734.28 149.81,734.05 150.78,733.83 151.75,733.61 152.72,733.4 153.69,733.19 154.67,732.99 155.65,732.8 156.63,732.61 157.61,732.42 158.59,732.24 159.57,732.06 160.55,731.89 161.54,731.71 162.52,731.54 163.51,731.38 164.49,731.21 165.48,731.05 166.47,730.88 167.46,730.72 168.45,730.56 169.43,730.4 170.42,730.24 171.41,730.07 172.4,729.91 173.39,729.74 174.38,729.57 175.37,729.4 176.35,729.23 177.34,729.06 178.33,728.88 179.31,728.7 180.3,728.51 181.28,728.32 182.27,728.13 183.25,727.93 184.23,727.72 185.21,727.52 186.19,727.3 187.17,727.09 188.14,726.87 189.12,726.64 190.09,726.41 191.07,726.18 192.04,725.94 193.01,725.69 193.98,725.45 194.95,725.19 195.92,724.94 196.88,724.68 197.85,724.41 198.81,724.14 199.77,723.87 200.73,723.59 201.69,723.3 202.65,723.01 203.61,722.72 204.56,722.42 205.51,722.12 206.46,721.81 207.41,721.5 208.36,721.19 209.31,720.87 210.25,720.54 211.19,720.21 212.14,719.87 213.07,719.53 214.01,719.19 214.95,718.84 215.88,718.49 216.81,718.13 217.74,717.77 218.67,717.4 219.6,717.02 220.52,716.65 221.44,716.27 222.36,715.88 223.28,715.49 224.2,715.1 225.12,714.7 226.03,714.29 226.94,713.88 227.85,713.47 228.76,713.06 229.66,712.64 230.57,712.21 231.47,711.78 232.37,711.35 233.27,710.91 234.16,710.47 235.06,710.02 235.95,709.57 236.84,709.12 237.73,708.66 238.62,708.2 239.5,707.74 240.39,707.27 241.27,706.8 242.15,706.32 243.02,705.84 243.9,705.35 244.77,704.87 245.64,704.38 246.51,703.88 247.38,703.38 248.25,702.88 249.11,702.37 249.97,701.86 250.84,701.35 251.69,700.83 252.55,700.31 253.4,699.79 254.26,699.26 255.11,698.73 255.96,698.2 256.8,697.67 257.65,697.13 258.49,696.58 259.33,696.04 260.17,695.49 261.01,694.93 261.84,694.38 262.68,693.82 263.51,693.26 264.34,692.69 265.16,692.13 265.99,691.56 266.81,690.98 267.64,690.41 268.45,689.83 269.27,689.25 270.09,688.66 270.9,688.07 271.71,687.48 272.52,686.89 273.33,686.3 274.14,685.7 274.94,685.1 275.74,684.49 276.54,683.89 277.34,683.28 278.14,682.67 278.93,682.06 279.72,681.44 280.51,680.82 281.3,680.2 282.09,679.58 282.87,678.96 283.65,678.33 284.43,677.7 285.21,677.07 285.98,676.43 286.76,675.8 287.53,675.16 288.3,674.52 289.07,673.88 289.83,673.23 290.6,672.59 291.36,671.94 292.12,671.29 292.88,670.64 293.63,669.99 294.39,669.33 295.14,668.67 295.89,668.01 296.64,667.35 297.38,666.69 298.12,666.03 298.86,665.36 299.6,664.69 300.34,664.02 301.07,663.34 301.8,662.66 302.53,661.98 303.25,661.3 303.97,660.62 304.69,659.93 305.4,659.24 306.12,658.54 306.82,657.84 307.53,657.14 308.23,656.44 308.93,655.73 309.62,655.02 310.31,654.3 310.99,653.58 311.68,652.86 312.35,652.13 313.03,651.4 313.7,650.67 314.36,649.93 315.02,649.18 315.68,648.44 316.33,647.68 316.97,646.93 317.62,646.16 318.25,645.4 318.89,644.62 319.51,643.85 320.13,643.06 320.75,642.28 321.36,641.48 321.97,640.69 322.57,639.88 323.16,639.07 323.75,638.26 324.34,637.44 324.91,636.61 325.48,635.78 326.05,634.94 326.61,634.1 327.16,633.25 327.71,632.39 328.25,631.52 328.78,630.65 329.31,629.78 329.83,628.89 330.35,628 330.49,756.45 329.5,756.41 328.5,756.37 327.5,756.33 326.5,756.29 325.5,756.25 324.5,756.22 323.5,756.19 322.5,756.16 321.5,756.12 320.5,756.1 319.49,756.07 318.49,756.04 317.49,756.01 316.49,755.99 315.49,755.97 314.49,755.94 313.49,755.92 312.49,755.9 311.48,755.88 310.48,755.86 309.48,755.85 308.48,755.83 307.48,755.81 306.47,755.8 305.47,755.78 304.47,755.77 303.47,755.76 302.46,755.74 301.46,755.73 300.46,755.72 299.46,755.71 298.45,755.7 297.45,755.69 296.45,755.68 295.44,755.67 294.44,755.66 293.44,755.65 292.44,755.64 291.43,755.63 290.43,755.63 289.43,755.62 288.42,755.61 287.42,755.6 286.42,755.59 285.41,755.58 284.41,755.58 283.41,755.57 282.4,755.56 281.4,755.55 280.4,755.54 279.39,755.53 278.39,755.52 277.39,755.51 276.38,755.5 275.38,755.49 274.38,755.48 273.37,755.47 272.37,755.45 271.37,755.44 270.36,755.43 269.36,755.41 268.36,755.4 267.35,755.38 266.35,755.36 265.35,755.35 264.35,755.33 263.34,755.31 262.34,755.29 261.34,755.27 260.33,755.24 259.33,755.22 258.33,755.2 257.33,755.17 256.33,755.14 255.32,755.12 254.32,755.09 253.32,755.06 252.32,755.02 251.32,754.99 250.31,754.96 249.31,754.92 248.31,754.88 247.31,754.84 246.31,754.8 245.31,754.76 244.31,754.72 243.3,754.67 242.3,754.63 241.3,754.58 240.3,754.53 239.3,754.47 238.3,754.42 237.3,754.36 236.3,754.3 235.3,754.24 234.3,754.18 233.3,754.12 232.3,754.05 231.31,753.98 230.31,753.92 229.31,753.84 228.31,753.77 227.31,753.7 226.31,753.62 225.31,753.54 224.32,753.46 223.32,753.38 222.32,753.29 221.32,753.21 220.32,753.12 219.33,753.03 218.33,752.94 217.33,752.85 216.33,752.76 215.34,752.67 214.34,752.57 213.34,752.47 212.35,752.37 211.35,752.27 210.35,752.17 209.36,752.07 208.36,751.96 207.36,751.86 206.37,751.75 205.37,751.64 204.38,751.53 203.38,751.42 202.38,751.31 201.39,751.2 200.39,751.08 199.4,750.97 198.4,750.85 197.4,750.73 196.41,750.61 195.41,750.49 194.42,750.37 193.42,750.25 192.43,750.13 191.43,750 190.44,749.88 189.44,749.75 188.45,749.63 187.45,749.5 186.46,749.37 185.46,749.24 184.47,749.11 183.47,748.98 182.48,748.85 181.48,748.72 180.48,748.59 179.49,748.45 178.49,748.32 177.5,748.18 176.5,748.05 175.51,747.91 174.51,747.78 173.52,747.64 172.52,747.5 171.53,747.36 170.53,747.22 169.54,747.08 168.54,746.95 167.55,746.81 166.55,746.67 165.56,746.53 164.56,746.39 163.57,746.25 162.58,746.11 161.58,745.98 160.59,745.84 159.59,745.71 158.6,745.58 157.6,745.46 156.61,745.34 155.62,745.22 154.62,745.11 153.63,745 152.64,744.9 151.65,744.8 150.66,744.71 149.67,744.62 148.68,744.54 147.69,744.47 146.7,744.4 145.71,744.34 144.72,744.29 143.73,744.25 142.75,744.22 141.76,744.19 140.78,744.18 139.79,744.17 138.81,744.18 137.82,744.19 136.84,744.22 135.86,744.25 134.88,744.3 133.9,744.36 132.92,744.44 131.94,744.52 130.97,744.62 129.99,744.73 129.02,744.85 128.04,744.99 127.07,745.15 126.1,745.32 125.13,745.5 124.16,745.7 123.19,745.91 122.23,746.14 121.26,746.39 120.3,746.66 119.34,746.93 118.37,747.22 117.41,747.52 116.45,747.84 115.49,748.16 114.53,748.48 113.57,748.82 112.61,749.15 111.65,749.49 110.7,749.83 109.74,750.17 108.78,750.51 107.81,750.84 106.85,751.18 105.89,751.5 104.93,751.83 103.96,752.15 103,752.46 102.04,752.77 101.07,753.07 100.1,753.36 99.13,753.65 98.16,753.92 97.19,754.19 96.22,754.45 95.24,754.69 94.27,754.92 93.29,755.15 92.31,755.36 91.33,755.55 90.35,755.73 89.36,755.9 88.38,756.05 87.39,756.19 86.4,756.32 85.41,756.43 84.42,756.53 83.42,756.62 82.42,756.7 81.43,756.77 80.43,756.82 79.43,756.87 78.43,756.91 77.42,756.94 76.42,756.97 75.42,756.98 74.41,756.99 73.41,757 72.4,757 71.39,756.99 70.39,756.99 69.38,756.97 68.37,756.96 67.36,756.94 66.36,756.92 65.35,756.9 64.34,756.88 63.33,756.86 62.32,756.84 61.32,756.82 60.31,756.8 59.3,756.79 58.29,756.77 57.29,756.76 56.28,756.76 55.28,756.76 54.28,756.76 53.27,756.77 52.27,756.79 51.27,756.82 50.27,756.85 49.27,756.89 48.27,756.93 47.28,756.99 46.28,757.06 45.29,757.14" fill="#eef4fe"/>
<line x1="43.5" y1="745.11" x2="331.5" y2="745.11" stroke="#666666" stroke-width="1.7" stroke-dasharray="3.5 3.42"/>
<polyline points="45.3,756.47 46.3,756.39 47.3,756.31 48.3,756.24 49.3,756.17 50.3,756.11 51.3,756.06 52.3,756 53.3,755.95 54.3,755.91 55.3,755.86 56.3,755.82 57.3,755.78 58.3,755.74 59.3,755.7 60.3,755.67 61.3,755.63 62.3,755.59 63.3,755.56 64.3,755.52 65.3,755.48 66.3,755.44 67.3,755.4 68.3,755.35 69.3,755.31 70.3,755.26 71.3,755.2 72.3,755.15 73.3,755.09 74.3,755.02 75.3,754.95 76.3,754.88 77.3,754.8 78.3,754.71 79.3,754.62 80.3,754.52 81.3,754.41 82.3,754.3 83.3,754.18 84.3,754.05 85.3,753.91 86.3,753.77 87.3,753.61 88.3,753.45 89.3,753.27 90.3,753.09 91.3,752.89 92.3,752.69 93.3,752.47 94.3,752.24 95.3,752 96.3,751.74 97.3,751.48 98.3,751.2 99.3,750.91 100.3,750.62 101.3,750.31 102.3,750 103.3,749.69 104.3,749.36 105.3,749.04 106.3,748.71 107.3,748.38 108.3,748.04 109.3,747.71 110.3,747.37 111.3,747.04 112.3,746.71 113.3,746.39 114.3,746.06 115.3,745.75 116.3,745.44 117.3,745.14 118.3,744.84 119.3,744.55 120.3,744.28 121.3,744.01 122.3,743.76 123.3,743.52 124.3,743.29 125.3,743.08 126.3,742.87 127.3,742.68 128.3,742.5 129.3,742.33 130.3,742.17 131.3,742.02 132.3,741.88 133.3,741.75 134.3,741.63 135.3,741.52 136.3,741.43 137.3,741.34 138.3,741.25 139.3,741.18 140.3,741.12 141.3,741.06 142.3,741.02 143.3,740.98 144.3,740.95 145.3,740.93 146.3,740.91 147.3,740.9 148.3,740.9 149.3,740.9 150.3,740.91 151.3,740.93 152.3,740.96 153.3,740.99 154.3,741.02 155.3,741.06 156.3,741.11 157.3,741.16 158.3,741.21 159.3,741.27 160.3,741.34 161.3,741.4 162.3,741.48 163.3,741.55 164.3,741.63 165.3,741.71 166.3,741.8 167.3,741.89 168.3,741.98 169.3,742.07 170.3,742.16 171.3,742.26 172.3,742.36 173.3,742.46 174.3,742.56 175.3,742.66 176.3,742.77 177.3,742.87 178.3,742.98 179.3,743.08 180.3,743.18 181.3,743.29 182.3,743.39 183.3,743.49 184.3,743.6 185.3,743.7 186.3,743.8 187.3,743.91 188.3,744.01 189.3,744.11 190.3,744.21 191.3,744.31 192.3,744.41 193.3,744.51 194.3,744.62 195.3,744.72 196.3,744.82 197.3,744.91 198.3,745.01 199.3,745.11 200.3,745.21 201.3,745.31 202.3,745.41 203.3,745.5 204.3,745.6 205.3,745.7 206.3,745.79 207.3,745.89 208.3,745.99 209.3,746.08 210.3,746.18 211.3,746.27 212.3,746.36 213.3,746.46 214.3,746.55 215.3,746.64 216.3,746.74 217.3,746.83 218.3,746.92 219.3,747.01 220.3,747.1 221.3,747.19 222.3,747.28 223.3,747.37 224.3,747.46 225.3,747.55 226.3,747.63 227.3,747.72 228.3,747.81 229.3,747.89 230.3,747.98 231.3,748.07 232.3,748.15 233.3,748.23 234.3,748.32 235.3,748.4 236.3,748.48 237.3,748.57 238.3,748.65 239.3,748.73 240.3,748.81 241.3,748.89 242.3,748.97 243.3,749.05 244.3,749.13 245.3,749.2 246.3,749.28 247.3,749.36 248.3,749.43 249.3,749.51 250.3,749.58 251.3,749.66 252.3,749.73 253.3,749.81 254.3,749.88 255.3,749.95 256.3,750.02 257.3,750.09 258.3,750.16 259.3,750.23 260.3,750.3 261.3,750.37 262.3,750.43 263.3,750.5 264.3,750.57 265.3,750.63 266.3,750.7 267.3,750.76 268.3,750.82 269.3,750.89 270.3,750.95 271.3,751.01 272.3,751.07 273.3,751.13 274.3,751.19 275.3,751.24 276.3,751.3 277.3,751.36 278.3,751.41 279.3,751.47 280.3,751.52 281.3,751.58 282.3,751.63 283.3,751.68 284.3,751.73 285.3,751.78 286.3,751.83 287.3,751.88 288.3,751.93 289.3,751.98 290.3,752.02 291.3,752.07 292.3,752.12 293.3,752.16 294.3,752.2 295.3,752.24 296.3,752.29 297.3,752.33 298.3,752.37 299.3,752.41 300.3,752.44 301.3,752.48 302.3,752.52 303.3,752.55 304.3,752.59 305.3,752.62 306.3,752.65 307.3,752.69 308.3,752.72 309.3,752.75 310.3,752.78 311.3,752.8 312.3,752.83 313.3,752.86 314.3,752.88 315.3,752.91 316.3,752.93 317.3,752.96 318.3,752.98 319.3,753 320.3,753.02 321.3,753.04 322.3,753.05 323.3,753.07 324.3,753.09 325.3,753.1 326.3,753.12 327.3,753.13 328.3,753.14 329.3,753.15 330.3,753.16 331.3,753.17" fill="none" stroke="#2c3676" stroke-width="1.15" stroke-linejoin="round" stroke-linecap="round"/>
</g>
<rect x="43.5" y="559.6" width="291" height="199.4" fill="none" stroke="#b0b0b0" stroke-width="1.3"/>
<line x1="38.8" y1="757.3" x2="43.5" y2="757.3" stroke="#b0b0b0" stroke-width="1"/>
<text x="36.6" y="761" class="tl" text-anchor="end">0</text>
<line x1="38.8" y1="732.92" x2="43.5" y2="732.92" stroke="#b0b0b0" stroke-width="1"/>
<text x="36.6" y="736.62" class="tl" text-anchor="end">2</text>
<line x1="38.8" y1="708.55" x2="43.5" y2="708.55" stroke="#b0b0b0" stroke-width="1"/>
<text x="36.6" y="712.25" class="tl" text-anchor="end">4</text>
<line x1="38.8" y1="684.17" x2="43.5" y2="684.17" stroke="#b0b0b0" stroke-width="1"/>
<text x="36.6" y="687.88" class="tl" text-anchor="end">6</text>
<line x1="38.8" y1="659.8" x2="43.5" y2="659.8" stroke="#b0b0b0" stroke-width="1"/>
<text x="36.6" y="663.5" class="tl" text-anchor="end">8</text>
<line x1="38.8" y1="635.42" x2="43.5" y2="635.42" stroke="#b0b0b0" stroke-width="1"/>
<text x="36.6" y="639.12" class="tl" text-anchor="end">10</text>
<line x1="38.8" y1="611.05" x2="43.5" y2="611.05" stroke="#b0b0b0" stroke-width="1"/>
<text x="36.6" y="614.75" class="tl" text-anchor="end">12</text>
<line x1="38.8" y1="586.67" x2="43.5" y2="586.67" stroke="#b0b0b0" stroke-width="1"/>
<text x="36.6" y="590.38" class="tl" text-anchor="end">14</text>
<line x1="38.8" y1="562.3" x2="43.5" y2="562.3" stroke="#b0b0b0" stroke-width="1"/>
<text x="36.6" y="566" class="tl" text-anchor="end">16</text>
<line x1="45.3" y1="759" x2="45.3" y2="763.5" stroke="#b0b0b0" stroke-width="1"/>
<text x="45.3" y="774.8" class="tl" text-anchor="middle">2</text>
<line x1="93" y1="759" x2="93" y2="763.5" stroke="#b0b0b0" stroke-width="1"/>
<text x="93" y="774.8" class="tl" text-anchor="middle">5</text>
<line x1="140.7" y1="759" x2="140.7" y2="763.5" stroke="#b0b0b0" stroke-width="1"/>
<text x="140.7" y="774.8" class="tl" text-anchor="middle">8</text>
<line x1="188.4" y1="759" x2="188.4" y2="763.5" stroke="#b0b0b0" stroke-width="1"/>
<text x="188.4" y="774.8" class="tl" text-anchor="middle">11</text>
<line x1="236.1" y1="759" x2="236.1" y2="763.5" stroke="#b0b0b0" stroke-width="1"/>
<text x="236.1" y="774.8" class="tl" text-anchor="middle">14</text>
<line x1="283.8" y1="759" x2="283.8" y2="763.5" stroke="#b0b0b0" stroke-width="1"/>
<text x="283.8" y="774.8" class="tl" text-anchor="middle">17</text>
<line x1="331.5" y1="759" x2="331.5" y2="763.5" stroke="#b0b0b0" stroke-width="1"/>
<text x="331.5" y="774.8" class="tl" text-anchor="middle">20</text>
<g class="cL">
<text x="190.3" y="793.8" class="al" text-anchor="middle">FPG</text>
<text class="hr" text-anchor="middle" transform="translate(13.2,659.3) rotate(-90)">HR(95% CI)</text>
<text x="137.8" y="552.1" class="ti">Men, BMI&gt;=25.0</text>
<text x="3.6" y="552.5" class="le">C</text>
<text x="148.6" y="570.2" class="pv">P-overall=0.061</text>
<text x="148.6" y="579.1" class="pv">P-nonlinearity=0.043</text>
</g>
<clipPath id="clipD"><rect x="396.2" y="20.5" width="284.6" height="198.5"/></clipPath>
<g clip-path="url(#clipD)">
<polygon points="397.2,2 445.66,2.02 445.69,3.01 445.73,4.01 445.77,5.01 445.8,6 445.84,7 445.87,8 445.91,8.99 445.94,9.99 445.98,10.99 446.01,11.99 446.04,12.98 446.07,13.98 446.11,14.98 446.14,15.98 446.17,16.98 446.2,17.98 446.23,18.98 446.26,19.97 446.29,20.97 446.32,21.97 446.35,22.97 446.38,23.97 446.41,24.97 446.44,25.97 446.47,26.97 446.5,27.97 446.53,28.97 446.56,29.97 446.59,30.97 446.62,31.97 446.65,32.97 446.68,33.97 446.71,34.97 446.74,35.97 446.77,36.97 446.8,37.97 446.84,38.97 446.87,39.97 446.9,40.97 446.93,41.97 446.96,42.97 446.99,43.97 447.03,44.97 447.06,45.97 447.09,46.98 447.13,47.98 447.16,48.98 447.2,49.98 447.23,50.98 447.27,51.98 447.31,52.98 447.34,53.98 447.38,54.98 447.42,55.98 447.46,56.98 447.5,57.98 447.54,58.98 447.58,59.98 447.62,60.98 447.66,61.98 447.71,62.98 447.75,63.98 447.8,64.98 447.84,65.98 447.89,66.98 447.94,67.98 447.98,68.98 448.03,69.98 448.08,70.98 448.13,71.98 448.19,72.98 448.24,73.98 448.3,74.98 448.35,75.98 448.41,76.98 448.47,77.98 448.52,78.98 448.58,79.98 448.65,80.98 448.71,81.98 448.77,82.97 448.84,83.97 448.9,84.97 448.97,85.97 449.04,86.97 449.11,87.96 449.18,88.96 449.25,89.96 449.33,90.96 449.4,91.95 449.48,92.95 449.56,93.95 449.64,94.94 449.73,95.94 449.81,96.94 449.9,97.93 449.98,98.93 450.07,99.92 450.16,100.92 450.26,101.91 450.35,102.91 450.45,103.9 450.55,104.9 450.65,105.89 450.75,106.89 450.86,107.88 450.97,108.87 451.08,109.86 451.19,110.86 451.31,111.85 451.42,112.84 451.54,113.83 451.66,114.82 451.79,115.81 451.92,116.8 452.05,117.79 452.18,118.78 452.31,119.77 452.45,120.76 452.59,121.75 452.73,122.74 452.88,123.72 453.03,124.71 453.18,125.7 453.33,126.68 453.49,127.67 453.65,128.65 453.82,129.64 453.98,130.62 454.15,131.61 454.33,132.59 454.5,133.57 454.68,134.55 454.86,135.53 455.05,136.52 455.24,137.5 455.43,138.48 455.63,139.46 455.82,140.44 456.02,141.41 456.23,142.39 456.43,143.37 456.64,144.35 456.85,145.33 457.06,146.3 457.27,147.28 457.48,148.26 457.7,149.23 457.91,150.21 458.13,151.19 458.35,152.16 458.57,153.14 458.78,154.11 459,155.09 459.22,156.07 459.44,157.04 459.66,158.02 459.88,158.99 460.1,159.97 460.32,160.95 460.54,161.92 460.76,162.9 460.98,163.88 461.19,164.85 461.41,165.83 461.62,166.81 461.83,167.78 462.04,168.76 462.25,169.74 462.45,170.72 462.66,171.7 462.86,172.68 463.06,173.66 463.26,174.64 463.45,175.62 463.64,176.6 463.83,177.58 464.02,178.56 464.2,179.55 464.38,180.53 464.55,181.51 464.73,182.5 464.9,183.48 465.06,184.47 465.23,185.45 465.39,186.44 465.54,187.43 465.7,188.42 465.84,189.41 465.99,190.4 466.13,191.39 466.27,192.38 466.4,193.37 466.53,194.36 466.65,195.35 466.77,196.35 466.88,197.34 466.99,198.34 467.1,199.34 467.2,200.33 467.3,201.33 467.39,202.33 467.47,203.33 467.55,204.33 467.63,205.33 467.84,205.33 468.17,204.37 468.49,203.41 468.81,202.46 469.13,201.5 469.43,200.54 469.73,199.58 470.02,198.61 470.31,197.65 470.59,196.69 470.86,195.72 471.13,194.75 471.39,193.79 471.64,192.82 471.89,191.85 472.14,190.87 472.37,189.9 472.6,188.93 472.83,187.96 473.05,186.98 473.27,186 473.48,185.03 473.68,184.05 473.88,183.07 474.08,182.09 474.27,181.11 474.45,180.13 474.63,179.15 474.81,178.16 474.98,177.18 475.14,176.2 475.31,175.21 475.46,174.22 475.62,173.24 475.77,172.25 475.91,171.26 476.05,170.27 476.19,169.28 476.32,168.29 476.45,167.3 476.58,166.31 476.7,165.32 476.82,164.33 476.93,163.33 477.05,162.34 477.16,161.34 477.26,160.35 477.36,159.35 477.46,158.36 477.56,157.36 477.65,156.37 477.75,155.37 477.83,154.37 477.92,153.37 478.01,152.38 478.09,151.38 478.17,150.38 478.24,149.38 478.32,148.38 478.39,147.38 478.46,146.38 478.53,145.38 478.6,144.38 478.66,143.38 478.73,142.38 478.79,141.38 478.85,140.37 478.91,139.37 478.97,138.37 479.03,137.37 479.09,136.37 479.14,135.37 479.2,134.36 479.25,133.36 479.3,132.36 479.35,131.36 479.41,130.35 479.46,129.35 479.51,128.35 479.56,127.35 479.6,126.34 479.65,125.34 479.7,124.34 479.74,123.34 479.79,122.33 479.83,121.33 479.88,120.33 479.92,119.33 479.96,118.32 480.01,117.32 480.05,116.32 480.09,115.31 480.13,114.31 480.17,113.31 480.2,112.31 480.24,111.3 480.28,110.3 480.32,109.3 480.35,108.29 480.39,107.29 480.42,106.29 480.46,105.28 480.49,104.28 480.53,103.28 480.56,102.27 480.59,101.27 480.62,100.27 480.65,99.26 480.69,98.26 480.72,97.26 480.75,96.25 480.78,95.25 480.8,94.25 480.83,93.24 480.86,92.24 480.89,91.24 480.92,90.23 480.94,89.23 480.97,88.22 481,87.22 481.02,86.22 481.05,85.21 481.08,84.21 481.1,83.21 481.13,82.2 481.15,81.2 481.17,80.2 481.2,79.19 481.22,78.19 481.25,77.19 481.27,76.18 481.29,75.18 481.32,74.18 481.34,73.17 481.36,72.17 481.38,71.16 481.4,70.16 481.43,69.16 481.45,68.15 481.47,67.15 481.49,66.15 481.51,65.14 481.53,64.14 481.56,63.14 481.58,62.13 481.6,61.13 481.62,60.13 481.64,59.13 481.66,58.12 481.68,57.12 481.7,56.12 481.72,55.11 481.74,54.11 481.76,53.11 481.78,52.1 481.81,51.1 481.83,50.1 481.85,49.1 481.87,48.09 481.89,47.09 481.91,46.09 481.93,45.08 481.95,44.08 481.97,43.08 482,42.08 482.02,41.07 482.04,40.07 482.06,39.07 482.08,38.07 482.11,37.07 482.13,36.06 482.15,35.06 482.17,34.06 482.2,33.06 482.22,32.06 482.24,31.05 482.27,30.05 482.29,29.05 482.32,28.05 482.34,27.05 482.37,26.05 482.39,25.04 482.42,24.04 482.44,23.04 482.47,22.04 482.5,21.04 482.52,20.04 482.55,19.04 482.58,18.04 482.61,17.04 482.63,16.04 482.66,15.03 482.69,14.03 482.72,13.03 482.75,12.03 482.78,11.03 482.81,10.03 482.85,9.03 482.88,8.03 482.91,7.03 482.94,6.03 482.98,5.03 483.01,4.03 483.05,3.03 483.08,2.04 677,2 677,217.9 490,217.7 480,217.5 475,216.8 472.5,215.5 471,213.5 470,211 469,208 467.8,205.3 466.9,205.9 463.2,210.5 459.6,213.8 454.5,216.4 448.6,217.5 445,217.8 397.2,218" fill="#ffb0b3"/>
<line x1="395.7" y1="205.51" x2="678" y2="205.51" stroke="#3d3d3d" stroke-width="1.3" stroke-dasharray="3.45 3.4"/>
<polyline points="397.6,217.6 398.6,217.6 399.6,217.6 400.6,217.6 401.61,217.6 402.61,217.6 403.61,217.6 404.61,217.6 405.61,217.6 406.61,217.6 407.61,217.6 408.62,217.6 409.62,217.6 410.62,217.6 411.62,217.6 412.62,217.6 413.62,217.6 414.62,217.6 415.63,217.6 416.63,217.6 417.63,217.6 418.63,217.6 419.63,217.6 420.63,217.6 421.63,217.6 422.64,217.59 423.64,217.59 424.64,217.58 425.64,217.57 426.64,217.56 427.64,217.54 428.64,217.53 429.65,217.51 430.65,217.49 431.65,217.45 432.65,217.38 433.65,217.29 434.65,217.18 435.65,217.05 436.66,216.91 437.66,216.77 438.66,216.62 439.66,216.47 440.66,216.29 441.66,216.09 442.66,215.87 443.67,215.64 444.67,215.39 445.67,215.12 446.67,214.85 447.67,214.53 448.67,214.14 449.67,213.64 450.68,212.87 451.68,211.82 452.68,210.59 453.68,209.26 454.68,207.68 455.68,205.77 456.68,204.02 457.69,202.47 458.69,201.05 459.69,200.15 460.69,199.6 461.69,199.25 462.69,199.31 463.69,200.03 464.7,201.1 465.7,202.82 466.7,205.01 467.7,206.82 468.7,208.53 469.7,210.32 470.7,212.51 471.71,214.33 472.71,215.38 473.71,216.14 474.71,216.63 475.71,217.03 476.71,217.34 477.71,217.49 478.72,217.55 479.72,217.59 480.72,217.63 481.72,217.66 482.72,217.68 483.72,217.69 484.72,217.7 485.73,217.7 486.73,217.7 487.73,217.7 488.73,217.7 489.73,217.7 490.73,217.7 491.73,217.7 492.74,217.7 493.74,217.7 494.74,217.7 495.74,217.7 496.74,217.7 497.74,217.7 498.74,217.7 499.75,217.7 500.75,217.7 501.75,217.7 502.75,217.7 503.75,217.7 504.75,217.7 505.75,217.7 506.76,217.7 507.76,217.7 508.76,217.7 509.76,217.7 510.76,217.7 511.76,217.7 512.76,217.7 513.77,217.7 514.77,217.7 515.77,217.7 516.77,217.7 517.77,217.7 518.77,217.7 519.77,217.7 520.78,217.7 521.78,217.7 522.78,217.7 523.78,217.7 524.78,217.7 525.78,217.7 526.78,217.7 527.79,217.7 528.79,217.7 529.79,217.7 530.79,217.7 531.79,217.7 532.79,217.7 533.79,217.7 534.8,217.7 535.8,217.7 536.8,217.7 537.8,217.7 538.8,217.69 539.8,217.69 540.8,217.69 541.81,217.69 542.81,217.69 543.81,217.69 544.81,217.69 545.81,217.69 546.81,217.69 547.81,217.69 548.82,217.69 549.82,217.69 550.82,217.69 551.82,217.69 552.82,217.69 553.82,217.69 554.82,217.69 555.83,217.69 556.83,217.69 557.83,217.69 558.83,217.69 559.83,217.69 560.83,217.69 561.83,217.69 562.84,217.69 563.84,217.69 564.84,217.69 565.84,217.69 566.84,217.69 567.84,217.68 568.84,217.68 569.85,217.68 570.85,217.68 571.85,217.68 572.85,217.68 573.85,217.68 574.85,217.68 575.85,217.68 576.86,217.68 577.86,217.68 578.86,217.68 579.86,217.68 580.86,217.68 581.86,217.68 582.86,217.68 583.87,217.68 584.87,217.68 585.87,217.68 586.87,217.68 587.87,217.67 588.87,217.67 589.87,217.67 590.88,217.67 591.88,217.67 592.88,217.67 593.88,217.67 594.88,217.67 595.88,217.67 596.88,217.67 597.89,217.67 598.89,217.67 599.89,217.67 600.89,217.67 601.89,217.67 602.89,217.67 603.89,217.66 604.9,217.66 605.9,217.66 606.9,217.66 607.9,217.66 608.9,217.66 609.9,217.66 610.9,217.66 611.91,217.66 612.91,217.66 613.91,217.66 614.91,217.66 615.91,217.66 616.91,217.66 617.91,217.65 618.92,217.65 619.92,217.65 620.92,217.65 621.92,217.65 622.92,217.65 623.92,217.65 624.92,217.65 625.93,217.65 626.93,217.65 627.93,217.65 628.93,217.65 629.93,217.65 630.93,217.64 631.93,217.64 632.94,217.64 633.94,217.64 634.94,217.64 635.94,217.64 636.94,217.64 637.94,217.64 638.94,217.64 639.95,217.64 640.95,217.64 641.95,217.64 642.95,217.63 643.95,217.63 644.95,217.63 645.95,217.63 646.96,217.63 647.96,217.63 648.96,217.63 649.96,217.63 650.96,217.63 651.96,217.63 652.96,217.63 653.97,217.62 654.97,217.62 655.97,217.62 656.97,217.62 657.97,217.62 658.97,217.62 659.97,217.62 660.98,217.62 661.98,217.62 662.98,217.62 663.98,217.61 664.98,217.61 665.98,217.61 666.98,217.61 667.99,217.61 668.99,217.61 669.99,217.61 670.99,217.61 671.99,217.61 672.99,217.61 673.99,217.6 675,217.6 676,217.6 677,217.6 678,217.6" fill="none" stroke="#d42a38" stroke-width="1.15" stroke-linejoin="round" stroke-linecap="round"/>
</g>
<rect x="395.7" y="20" width="285.6" height="199.5" fill="none" stroke="#b0b0b0" stroke-width="1.3"/>
<line x1="391.2" y1="217.7" x2="395.7" y2="217.7" stroke="#b0b0b0" stroke-width="1"/>
<text x="388.3" y="221.4" class="tl" text-anchor="end">0</text>
<line x1="391.2" y1="193.32" x2="395.7" y2="193.32" stroke="#b0b0b0" stroke-width="1"/>
<text x="388.3" y="197.02" class="tl" text-anchor="end">2</text>
<line x1="391.2" y1="168.95" x2="395.7" y2="168.95" stroke="#b0b0b0" stroke-width="1"/>
<text x="388.3" y="172.65" class="tl" text-anchor="end">4</text>
<line x1="391.2" y1="144.57" x2="395.7" y2="144.57" stroke="#b0b0b0" stroke-width="1"/>
<text x="388.3" y="148.27" class="tl" text-anchor="end">6</text>
<line x1="391.2" y1="120.2" x2="395.7" y2="120.2" stroke="#b0b0b0" stroke-width="1"/>
<text x="388.3" y="123.9" class="tl" text-anchor="end">8</text>
<line x1="391.2" y1="95.82" x2="395.7" y2="95.82" stroke="#b0b0b0" stroke-width="1"/>
<text x="388.3" y="99.52" class="tl" text-anchor="end">10</text>
<line x1="391.2" y1="71.45" x2="395.7" y2="71.45" stroke="#b0b0b0" stroke-width="1"/>
<text x="388.3" y="75.15" class="tl" text-anchor="end">12</text>
<line x1="391.2" y1="47.07" x2="395.7" y2="47.07" stroke="#b0b0b0" stroke-width="1"/>
<text x="388.3" y="50.77" class="tl" text-anchor="end">14</text>
<line x1="391.2" y1="22.7" x2="395.7" y2="22.7" stroke="#b0b0b0" stroke-width="1"/>
<text x="388.3" y="26.4" class="tl" text-anchor="end">16</text>
<line x1="397.2" y1="219.5" x2="397.2" y2="224" stroke="#b0b0b0" stroke-width="1"/>
<text x="397.2" y="235.8" class="tl" text-anchor="middle">2</text>
<line x1="444" y1="219.5" x2="444" y2="224" stroke="#b0b0b0" stroke-width="1"/>
<text x="444" y="235.8" class="tl" text-anchor="middle">5</text>
<line x1="490.8" y1="219.5" x2="490.8" y2="224" stroke="#b0b0b0" stroke-width="1"/>
<text x="490.8" y="235.8" class="tl" text-anchor="middle">8</text>
<line x1="537.6" y1="219.5" x2="537.6" y2="224" stroke="#b0b0b0" stroke-width="1"/>
<text x="537.6" y="235.8" class="tl" text-anchor="middle">11</text>
<line x1="584.4" y1="219.5" x2="584.4" y2="224" stroke="#b0b0b0" stroke-width="1"/>
<text x="584.4" y="235.8" class="tl" text-anchor="middle">14</text>
<line x1="631.2" y1="219.5" x2="631.2" y2="224" stroke="#b0b0b0" stroke-width="1"/>
<text x="631.2" y="235.8" class="tl" text-anchor="middle">17</text>
<line x1="678" y1="219.5" x2="678" y2="224" stroke="#b0b0b0" stroke-width="1"/>
<text x="678" y="235.8" class="tl" text-anchor="middle">20</text>
<g class="cR">
<text x="539.6" y="254.8" class="al" text-anchor="middle">FPG</text>
<text class="hr" text-anchor="middle" transform="translate(365.4,119.75) rotate(-90)">HR(95% CI)</text>
<text x="481.2" y="12.4" class="ti">Women, BMI&lt;18.5</text>
<text x="356.6" y="12.9" class="le">D</text>
<text x="498.5" y="30.7" class="pv">P-overall=0.404</text>
<text x="498.5" y="39.6" class="pv">P-nonlinearity=0.183</text>
</g>
<clipPath id="clipE"><rect x="396.2" y="294" width="284.6" height="191.8"/></clipPath>
<g clip-path="url(#clipE)">
<polygon points="396.83,311.55 397.03,312.53 397.23,313.51 397.42,314.5 397.62,315.48 397.81,316.47 398,317.45 398.19,318.44 398.38,319.42 398.57,320.41 398.76,321.39 398.95,322.38 399.14,323.36 399.33,324.35 399.52,325.33 399.7,326.32 399.89,327.3 400.07,328.29 400.26,329.27 400.44,330.25 400.63,331.24 400.81,332.22 401,333.21 401.18,334.19 401.37,335.18 401.55,336.16 401.74,337.15 401.92,338.13 402.11,339.11 402.29,340.1 402.48,341.08 402.66,342.06 402.85,343.05 403.04,344.03 403.22,345.01 403.41,346 403.6,346.98 403.79,347.96 403.98,348.94 404.17,349.93 404.36,350.91 404.55,351.89 404.74,352.87 404.93,353.85 405.13,354.83 405.32,355.81 405.52,356.79 405.72,357.77 405.92,358.75 406.12,359.73 406.32,360.71 406.52,361.69 406.72,362.67 406.93,363.65 407.14,364.63 407.34,365.61 407.55,366.58 407.77,367.56 407.98,368.54 408.19,369.51 408.41,370.49 408.63,371.46 408.85,372.44 409.07,373.41 409.29,374.39 409.52,375.36 409.75,376.34 409.98,377.31 410.21,378.28 410.44,379.26 410.68,380.23 410.92,381.2 411.16,382.17 411.4,383.14 411.65,384.11 411.89,385.08 412.15,386.05 412.4,387.02 412.65,387.98 412.91,388.95 413.17,389.92 413.44,390.89 413.7,391.85 413.97,392.82 414.25,393.78 414.52,394.75 414.8,395.71 415.08,396.67 415.37,397.63 415.65,398.6 415.95,399.56 416.24,400.52 416.54,401.48 416.84,402.44 417.14,403.4 417.45,404.35 417.76,405.31 418.07,406.27 418.39,407.22 418.71,408.18 419.04,409.13 419.37,410.09 419.7,411.04 420.04,411.99 420.38,412.95 420.73,413.9 421.07,414.85 421.43,415.8 421.78,416.75 422.14,417.7 422.51,418.64 422.88,419.59 423.25,420.54 423.63,421.48 424.01,422.42 424.4,423.37 424.79,424.31 425.19,425.24 425.59,426.18 426,427.11 426.41,428.05 426.83,428.97 427.25,429.9 427.68,430.82 428.11,431.74 428.55,432.66 429,433.57 429.45,434.47 429.91,435.38 430.38,436.28 430.85,437.17 431.32,438.06 431.81,438.94 432.3,439.82 432.8,440.69 433.31,441.56 433.82,442.42 434.34,443.27 434.87,444.12 435.4,444.96 435.95,445.79 436.5,446.62 437.06,447.43 437.63,448.25 438.2,449.05 438.79,449.84 439.38,450.63 439.98,451.41 440.59,452.18 441.21,452.94 441.84,453.69 442.47,454.43 443.12,455.16 443.77,455.88 444.44,456.59 445.11,457.3 445.8,457.99 446.49,458.67 447.2,459.34 447.91,459.99 448.64,460.64 449.37,461.28 450.12,461.9 450.87,462.51 451.64,463.11 452.41,463.69 453.2,464.27 454,464.83 454.81,465.37 455.64,465.91 456.47,466.43 457.31,466.93 458.17,467.43 459.04,467.9 459.92,468.37 460.81,468.82 461.72,469.25 462.63,469.67 463.56,470.07 464.51,470.46 465.46,470.83 466.43,471.18 467.41,471.52 468.4,471.84 469.41,472.15 470.43,472.44 471.46,472.71 472.51,472.96 473.57,473.2 473.3,472.07 474.29,471.91 475.28,471.74 476.27,471.57 477.26,471.4 478.25,471.22 479.24,471.04 480.23,470.86 481.22,470.67 482.21,470.48 483.2,470.29 484.19,470.09 485.18,469.89 486.17,469.68 487.16,469.47 488.15,469.26 489.14,469.04 490.13,468.82 491.11,468.59 492.1,468.36 493.09,468.12 494.07,467.88 495.05,467.64 496.04,467.39 497.02,467.14 498,466.88 498.97,466.62 499.95,466.35 500.93,466.08 501.9,465.8 502.87,465.52 503.84,465.23 504.81,464.94 505.78,464.64 506.74,464.33 507.71,464.03 508.67,463.71 509.62,463.39 510.58,463.07 511.53,462.74 512.48,462.4 513.43,462.06 514.38,461.71 515.32,461.36 516.26,461 517.2,460.64 518.13,460.27 519.06,459.89 519.99,459.51 520.91,459.12 521.84,458.72 522.75,458.32 523.67,457.91 524.58,457.5 525.49,457.08 526.39,456.65 527.29,456.21 528.19,455.77 529.08,455.33 529.97,454.87 530.85,454.41 531.73,453.94 532.6,453.47 533.48,452.99 534.34,452.5 535.2,452 536.06,451.5 536.91,450.99 537.76,450.47 538.6,449.94 539.44,449.41 540.28,448.87 541.1,448.32 541.93,447.77 542.75,447.21 543.56,446.64 544.37,446.06 545.17,445.48 545.97,444.89 546.77,444.29 547.56,443.69 548.34,443.08 549.12,442.47 549.9,441.84 550.67,441.22 551.43,440.58 552.19,439.94 552.95,439.3 553.7,438.64 554.44,437.99 555.19,437.32 555.92,436.66 556.65,435.98 557.38,435.3 558.1,434.62 558.82,433.93 559.54,433.23 560.24,432.53 560.95,431.83 561.65,431.12 562.34,430.4 563.03,429.68 563.72,428.96 564.4,428.23 565.07,427.5 565.74,426.76 566.41,426.02 567.07,425.27 567.73,424.52 568.38,423.77 569.03,423.01 569.67,422.25 570.31,421.48 570.95,420.72 571.58,419.94 572.2,419.17 572.82,418.39 573.44,417.6 574.05,416.82 574.66,416.03 575.27,415.24 575.86,414.44 576.46,413.64 577.05,412.83 577.64,412.03 578.22,411.22 578.8,410.4 579.37,409.59 579.94,408.77 580.5,407.95 581.07,407.12 581.62,406.29 582.18,405.46 582.73,404.62 583.27,403.79 583.81,402.95 584.35,402.1 584.88,401.25 585.41,400.41 585.94,399.55 586.46,398.7 586.97,397.84 587.49,396.98 588,396.12 588.5,395.25 589.01,394.38 589.51,393.51 590,392.64 590.49,391.77 590.98,390.89 591.46,390.01 591.94,389.12 592.42,388.24 592.89,387.35 593.36,386.46 593.83,385.57 594.29,384.68 594.75,383.78 595.21,382.88 595.66,381.98 596.11,381.08 596.56,380.17 597,379.27 597.44,378.36 597.87,377.45 598.31,376.54 598.74,375.62 599.16,374.71 599.59,373.79 600.01,372.87 600.42,371.95 600.84,371.03 601.25,370.1 601.65,369.17 602.06,368.25 602.46,367.32 602.86,366.39 603.25,365.45 603.65,364.52 604.04,363.59 604.42,362.65 604.81,361.71 605.19,360.77 605.57,359.83 605.94,358.89 606.31,357.95 606.68,357.01 607.05,356.06 607.42,355.11 607.78,354.17 608.14,353.22 608.49,352.27 608.85,351.32 609.2,350.37 609.55,349.42 609.9,348.46 610.24,347.51 610.58,346.56 610.92,345.6 611.26,344.65 611.59,343.69 611.92,342.73 612.25,341.77 612.58,340.82 612.9,339.86 613.23,338.9 613.55,337.94 613.87,336.98 614.18,336.02 614.5,335.06 614.81,334.1 615.12,333.13 615.42,332.17 615.73,331.21 616.03,330.25 616.33,329.29 616.63,328.32 616.93,327.36 617.23,326.4 617.52,325.44 617.81,324.47 618.1,323.51 618.39,322.55 618.67,321.59 618.96,320.62 619.24,319.66 619.52,318.7 619.8,317.74 620.08,316.78 620.35,315.81 620.63,314.85 620.9,313.89 621.17,312.93 621.44,311.97 621.71,311.02 621.97,310.06 622.24,309.1 622.5,308.14 622.76,307.19 623.02,306.23 623.28,305.28 623.54,304.32 623.79,303.37 624.05,302.41 624.3,301.46 624.55,300.51 624.8,299.56 625.05,298.61 625.3,297.66 625.55,296.72 625.8,295.77 626.04,294.83 626.28,293.88 626.53,292.94 626.77,292 627.01,291.06 627.25,290.12 627.49,289.18 627.72,288.24 627.96,287.31 627.8,287 677,287 676.99,459.82 675.99,459.93 675,460.03 674,460.14 673,460.24 672,460.35 671.01,460.45 670.01,460.55 669.01,460.66 668.01,460.76 667.02,460.86 666.02,460.95 665.02,461.05 664.02,461.15 663.02,461.25 662.02,461.34 661.03,461.44 660.03,461.53 659.03,461.62 658.03,461.71 657.03,461.81 656.03,461.9 655.04,461.99 654.04,462.07 653.04,462.16 652.04,462.25 651.04,462.34 650.04,462.42 649.04,462.51 648.04,462.59 647.04,462.68 646.04,462.76 645.04,462.84 644.04,462.92 643.05,463 642.05,463.08 641.05,463.16 640.05,463.24 639.05,463.32 638.05,463.4 637.05,463.47 636.05,463.55 635.05,463.63 634.05,463.7 633.05,463.78 632.05,463.85 631.05,463.92 630.05,464 629.05,464.07 628.05,464.14 627.05,464.21 626.05,464.28 625.04,464.35 624.04,464.42 623.04,464.49 622.04,464.56 621.04,464.62 620.04,464.69 619.04,464.76 618.04,464.82 617.04,464.89 616.04,464.96 615.04,465.02 614.04,465.09 613.04,465.15 612.04,465.21 611.03,465.28 610.03,465.34 609.03,465.4 608.03,465.46 607.03,465.52 606.03,465.59 605.03,465.65 604.03,465.71 603.02,465.77 602.02,465.83 601.02,465.89 600.02,465.94 599.02,466 598.02,466.06 597.02,466.12 596.02,466.18 595.01,466.23 594.01,466.29 593.01,466.35 592.01,466.4 591.01,466.46 590.01,466.52 589,466.57 588,466.63 587,466.68 586,466.74 585,466.79 584,466.85 582.99,466.9 581.99,466.96 580.99,467.01 579.99,467.06 578.99,467.12 577.99,467.17 576.98,467.22 575.98,467.28 574.98,467.33 573.98,467.38 572.98,467.44 571.98,467.49 570.97,467.54 569.97,467.6 568.97,467.65 567.97,467.7 566.97,467.75 565.97,467.8 564.96,467.86 563.96,467.91 562.96,467.96 561.96,468.01 560.96,468.07 559.95,468.12 558.95,468.17 557.95,468.22 556.95,468.27 555.95,468.33 554.95,468.38 553.94,468.43 552.94,468.48 551.94,468.54 550.94,468.59 549.94,468.64 548.94,468.69 547.93,468.75 546.93,468.8 545.93,468.85 544.93,468.9 543.93,468.96 542.93,469.01 541.92,469.06 540.92,469.12 539.92,469.17 538.92,469.22 537.92,469.28 536.92,469.33 535.92,469.39 534.92,469.44 533.91,469.5 532.91,469.55 531.91,469.61 530.91,469.66 529.91,469.72 528.91,469.77 527.91,469.83 526.91,469.88 525.9,469.94 524.9,470 523.9,470.06 522.9,470.11 521.9,470.17 520.9,470.23 519.9,470.29 518.9,470.35 517.9,470.4 516.9,470.46 515.9,470.52 514.89,470.58 513.89,470.64 512.89,470.7 511.89,470.77 510.89,470.83 509.89,470.89 508.89,470.95 507.89,471.01 506.89,471.08 505.89,471.14 504.89,471.21 503.89,471.27 502.89,471.34 501.89,471.4 500.89,471.47 499.89,471.53 498.89,471.6 497.89,471.67 496.89,471.74 495.89,471.81 494.89,471.87 493.89,471.94 492.89,472.02 491.89,472.09 490.89,472.16 489.89,472.23 488.89,472.3 487.89,472.38 486.9,472.45 485.9,472.53 484.9,472.6 483.9,472.68 482.9,472.75 481.9,472.83 480.9,472.91 479.9,472.99 478.9,473.07 477.91,473.15 476.91,473.23 475.91,473.31 474.91,473.39 473.91,473.48 472.91,473.56 471.92,473.65 470.92,473.73 469.92,473.82 468.92,473.91 467.92,474 466.93,474.08 465.93,474.17 464.93,474.27 463.93,474.36 462.94,474.45 461.94,474.54 460.94,474.64 459.94,474.73 458.95,474.83 457.95,474.93 456.95,475.02 455.96,475.12 454.96,475.22 453.96,475.32 452.97,475.42 451.97,475.52 450.97,475.63 449.98,475.73 448.98,475.83 447.98,475.94 446.99,476.04 445.99,476.15 445,476.26 444,476.37 443,476.48 442.01,476.59 441.01,476.7 440.02,476.81 439.02,476.92 438.03,477.03 437.03,477.15 436.03,477.26 435.04,477.38 434.04,477.49 433.05,477.61 432.05,477.73 431.06,477.85 430.06,477.97 429.07,478.09 428.07,478.21 427.08,478.33 426.08,478.45 425.09,478.58 424.09,478.7 423.1,478.82 422.1,478.95 421.11,479.07 420.11,479.2 419.12,479.33 418.13,479.46 417.13,479.58 416.14,479.71 415.14,479.84 414.15,479.97 413.15,480.1 412.16,480.24 411.17,480.37 410.17,480.5 409.18,480.64 408.18,480.77 407.19,480.9 406.19,481.04 405.2,481.18 404.21,481.31 403.21,481.45 402.22,481.59 401.22,481.72 400.23,481.86 399.24,482 398.24,482.14 397.25,482.28" fill="#ffb0b3"/>
<line x1="395.7" y1="472.71" x2="678" y2="472.71" stroke="#666666" stroke-width="1.7" stroke-dasharray="3.45 3.4"/>
<polyline points="397.3,465.64 398.3,465.74 399.31,465.84 400.31,465.95 401.31,466.06 402.31,466.17 403.31,466.28 404.32,466.39 405.32,466.5 406.32,466.62 407.32,466.73 408.33,466.85 409.33,466.97 410.33,467.09 411.34,467.21 412.34,467.33 413.34,467.46 414.34,467.58 415.35,467.7 416.35,467.83 417.35,467.95 418.35,468.08 419.36,468.2 420.36,468.33 421.36,468.45 422.36,468.58 423.37,468.7 424.37,468.82 425.37,468.95 426.37,469.07 427.38,469.19 428.38,469.31 429.38,469.43 430.38,469.55 431.38,469.67 432.39,469.79 433.39,469.91 434.39,470.02 435.39,470.14 436.4,470.25 437.4,470.36 438.4,470.47 439.41,470.58 440.41,470.68 441.41,470.78 442.41,470.88 443.42,470.98 444.42,471.08 445.42,471.17 446.42,471.27 447.43,471.35 448.43,471.44 449.43,471.52 450.43,471.6 451.44,471.68 452.44,471.76 453.44,471.83 454.44,471.9 455.44,471.96 456.45,472.02 457.45,472.08 458.45,472.13 459.45,472.18 460.46,472.23 461.46,472.27 462.46,472.31 463.47,472.35 464.47,472.38 465.47,472.4 466.47,472.42 467.48,472.44 468.48,472.45 469.48,472.46 470.48,472.46 471.49,472.46 472.49,472.45 473.49,472.44 474.49,472.42 475.5,472.4 476.5,472.37 477.5,472.33 478.5,472.29 479.5,472.25 480.51,472.2 481.51,472.14 482.51,472.08 483.51,472.01 484.52,471.93 485.52,471.85 486.52,471.77 487.52,471.68 488.53,471.58 489.53,471.48 490.53,471.37 491.54,471.26 492.54,471.14 493.54,471.02 494.54,470.9 495.55,470.76 496.55,470.63 497.55,470.49 498.55,470.34 499.56,470.19 500.56,470.03 501.56,469.87 502.56,469.71 503.56,469.54 504.57,469.37 505.57,469.19 506.57,469.01 507.57,468.82 508.58,468.63 509.58,468.44 510.58,468.24 511.59,468.04 512.59,467.84 513.59,467.63 514.59,467.42 515.6,467.2 516.6,466.98 517.6,466.76 518.6,466.53 519.61,466.31 520.61,466.07 521.61,465.84 522.61,465.6 523.62,465.36 524.62,465.11 525.62,464.87 526.62,464.62 527.62,464.36 528.63,464.11 529.63,463.85 530.63,463.59 531.63,463.32 532.64,463.06 533.64,462.79 534.64,462.52 535.64,462.25 536.65,461.97 537.65,461.7 538.65,461.42 539.65,461.14 540.66,460.85 541.66,460.57 542.66,460.28 543.66,460 544.67,459.71 545.67,459.41 546.67,459.12 547.67,458.83 548.68,458.53 549.68,458.24 550.68,457.94 551.68,457.64 552.69,457.34 553.69,457.03 554.69,456.73 555.69,456.42 556.7,456.11 557.7,455.79 558.7,455.48 559.71,455.16 560.71,454.83 561.71,454.51 562.71,454.18 563.72,453.85 564.72,453.51 565.72,453.17 566.72,452.83 567.73,452.49 568.73,452.13 569.73,451.78 570.73,451.42 571.74,451.06 572.74,450.69 573.74,450.32 574.74,449.94 575.75,449.56 576.75,449.17 577.75,448.78 578.75,448.38 579.75,447.97 580.76,447.56 581.76,447.15 582.76,446.73 583.76,446.3 584.77,445.87 585.77,445.43 586.77,444.98 587.77,444.53 588.78,444.07 589.78,443.61 590.78,443.14 591.78,442.66 592.79,442.18 593.79,441.69 594.79,441.2 595.79,440.7 596.8,440.19 597.8,439.68 598.8,439.16 599.81,438.64 600.81,438.11 601.81,437.57 602.81,437.03 603.82,436.48 604.82,435.92 605.82,435.36 606.82,434.79 607.83,434.21 608.83,433.63 609.83,433.04 610.83,432.45 611.84,431.85 612.84,431.24 613.84,430.63 614.84,430.01 615.85,429.38 616.85,428.75 617.85,428.11 618.85,427.46 619.86,426.8 620.86,426.14 621.86,425.47 622.86,424.79 623.87,424.1 624.87,423.41 625.87,422.71 626.87,422 627.88,421.28 628.88,420.56 629.88,419.83 630.88,419.09 631.88,418.34 632.89,417.58 633.89,416.82 634.89,416.04 635.89,415.26 636.9,414.47 637.9,413.67 638.9,412.86 639.9,412.04 640.91,411.21 641.91,410.38 642.91,409.53 643.91,408.68 644.92,407.82 645.92,406.94 646.92,406.06 647.92,405.16 648.93,404.26 649.93,403.34 650.93,402.42 651.93,401.48 652.94,400.53 653.94,399.57 654.94,398.6 655.94,397.61 656.95,396.61 657.95,395.6 658.95,394.57 659.95,393.53 660.96,392.48 661.96,391.41 662.96,390.33 663.96,389.23 664.97,388.12 665.97,386.99 666.97,385.85 667.98,384.69 668.98,383.52 669.98,382.33 670.98,381.12 671.99,379.89 672.99,378.65 673.99,377.39 674.99,376.11 676,374.82 677,373.5 678,372.17" fill="none" stroke="#d42a38" stroke-width="1.15" stroke-linejoin="round" stroke-linecap="round"/>
</g>
<rect x="395.7" y="293.5" width="285.6" height="192.8" fill="none" stroke="#b0b0b0" stroke-width="1.3"/>
<line x1="391.2" y1="484.5" x2="395.7" y2="484.5" stroke="#b0b0b0" stroke-width="1"/>
<text x="388.3" y="488.2" class="tl" text-anchor="end">0</text>
<line x1="391.2" y1="460.91" x2="395.7" y2="460.91" stroke="#b0b0b0" stroke-width="1"/>
<text x="388.3" y="464.61" class="tl" text-anchor="end">2</text>
<line x1="391.2" y1="437.32" x2="395.7" y2="437.32" stroke="#b0b0b0" stroke-width="1"/>
<text x="388.3" y="441.02" class="tl" text-anchor="end">4</text>
<line x1="391.2" y1="413.74" x2="395.7" y2="413.74" stroke="#b0b0b0" stroke-width="1"/>
<text x="388.3" y="417.44" class="tl" text-anchor="end">6</text>
<line x1="391.2" y1="390.15" x2="395.7" y2="390.15" stroke="#b0b0b0" stroke-width="1"/>
<text x="388.3" y="393.85" class="tl" text-anchor="end">8</text>
<line x1="391.2" y1="366.56" x2="395.7" y2="366.56" stroke="#b0b0b0" stroke-width="1"/>
<text x="388.3" y="370.26" class="tl" text-anchor="end">10</text>
<line x1="391.2" y1="342.98" x2="395.7" y2="342.98" stroke="#b0b0b0" stroke-width="1"/>
<text x="388.3" y="346.68" class="tl" text-anchor="end">12</text>
<line x1="391.2" y1="319.39" x2="395.7" y2="319.39" stroke="#b0b0b0" stroke-width="1"/>
<text x="388.3" y="323.09" class="tl" text-anchor="end">14</text>
<line x1="391.2" y1="295.8" x2="395.7" y2="295.8" stroke="#b0b0b0" stroke-width="1"/>
<text x="388.3" y="299.5" class="tl" text-anchor="end">16</text>
<line x1="397.2" y1="486.3" x2="397.2" y2="490.8" stroke="#b0b0b0" stroke-width="1"/>
<text x="397.2" y="501.8" class="tl" text-anchor="middle">2</text>
<line x1="444" y1="486.3" x2="444" y2="490.8" stroke="#b0b0b0" stroke-width="1"/>
<text x="444" y="501.8" class="tl" text-anchor="middle">5</text>
<line x1="490.8" y1="486.3" x2="490.8" y2="490.8" stroke="#b0b0b0" stroke-width="1"/>
<text x="490.8" y="501.8" class="tl" text-anchor="middle">8</text>
<line x1="537.6" y1="486.3" x2="537.6" y2="490.8" stroke="#b0b0b0" stroke-width="1"/>
<text x="537.6" y="501.8" class="tl" text-anchor="middle">11</text>
<line x1="584.4" y1="486.3" x2="584.4" y2="490.8" stroke="#b0b0b0" stroke-width="1"/>
<text x="584.4" y="501.8" class="tl" text-anchor="middle">14</text>
<line x1="631.2" y1="486.3" x2="631.2" y2="490.8" stroke="#b0b0b0" stroke-width="1"/>
<text x="631.2" y="501.8" class="tl" text-anchor="middle">17</text>
<line x1="678" y1="486.3" x2="678" y2="490.8" stroke="#b0b0b0" stroke-width="1"/>
<text x="678" y="501.8" class="tl" text-anchor="middle">20</text>
<g class="cR">
<text x="539.6" y="520" class="al" text-anchor="middle">FPG</text>
<text class="hr" text-anchor="middle" transform="translate(365.4,389.9) rotate(-90)">HR(95% CI)</text>
<text x="464.3" y="286" class="ti">Women, BMI&gt;=18.5 and &lt;24.9</text>
<text x="356.6" y="286.4" class="le">E</text>
<text x="498.5" y="304" class="pv">P-overall=0.016</text>
<text x="498.5" y="312.9" class="pv">P-nonlinearity=0.299</text>
</g>
<clipPath id="clipF"><rect x="396.2" y="560.1" width="284.6" height="198.4"/></clipPath>
<g clip-path="url(#clipF)">
<polygon points="397.3,702.52 397.98,703.23 398.66,703.95 399.35,704.66 400.04,705.38 400.74,706.09 401.44,706.8 402.14,707.51 402.84,708.22 403.55,708.93 404.26,709.63 404.98,710.34 405.69,711.04 406.41,711.74 407.14,712.43 407.87,713.13 408.6,713.82 409.33,714.51 410.07,715.19 410.81,715.87 411.56,716.55 412.31,717.23 413.06,717.9 413.82,718.56 414.58,719.22 415.34,719.88 416.11,720.53 416.88,721.18 417.66,721.82 418.44,722.46 419.22,723.09 420.01,723.72 420.8,724.34 421.59,724.96 422.39,725.56 423.19,726.17 424,726.76 424.81,727.35 425.62,727.93 426.44,728.51 427.27,729.08 428.09,729.64 428.92,730.19 429.76,730.73 430.6,731.27 431.44,731.8 432.29,732.32 433.14,732.83 434,733.34 434.86,733.83 435.73,734.32 436.6,734.79 437.47,735.26 438.35,735.72 439.23,736.17 440.12,736.6 441.01,737.03 441.91,737.45 442.81,737.85 443.72,738.25 444.63,738.64 445.55,739.01 446.47,739.37 447.39,739.72 448.32,740.06 449.25,740.39 450.19,740.71 451.14,741.01 452.09,741.3 453.04,741.58 454,741.85 454.96,742.1 455.93,742.34 456.9,742.57 457.88,742.79 458.87,742.99 459.86,743.17 460.85,743.34 461.85,743.5 462.85,743.65 463.86,743.78 464.88,743.89 465.9,743.99 466.92,744.08 467.95,744.15 468.99,744.2 470.03,744.24 471.07,744.26 472.12,744.27 471.85,744.05 472.6,743.38 473.36,742.73 474.13,742.1 474.91,741.48 475.71,740.88 476.51,740.3 477.32,739.74 478.14,739.19 478.97,738.65 479.81,738.13 480.66,737.63 481.51,737.14 482.38,736.65 483.25,736.19 484.12,735.73 485.01,735.28 485.9,734.85 486.79,734.42 487.69,734 488.6,733.59 489.5,733.19 490.42,732.79 491.34,732.4 492.26,732.02 493.18,731.64 494.11,731.26 495.04,730.89 495.97,730.52 496.9,730.15 497.84,729.79 498.77,729.43 499.71,729.06 500.64,728.7 501.58,728.34 502.51,727.97 503.45,727.6 504.38,727.23 505.31,726.86 506.24,726.48 507.17,726.1 508.09,725.72 509.01,725.32 509.93,724.93 510.84,724.52 511.75,724.11 512.65,723.68 513.55,723.25 514.45,722.82 515.34,722.37 516.22,721.92 517.1,721.45 517.98,720.99 518.85,720.51 519.72,720.02 520.58,719.53 521.44,719.03 522.29,718.52 523.14,718.01 523.98,717.48 524.82,716.95 525.66,716.42 526.49,715.87 527.31,715.32 528.13,714.77 528.95,714.2 529.76,713.63 530.56,713.05 531.36,712.47 532.16,711.87 532.95,711.27 533.74,710.67 534.52,710.06 535.3,709.44 536.07,708.82 536.84,708.19 537.61,707.55 538.37,706.91 539.12,706.26 539.87,705.61 540.61,704.95 541.35,704.28 542.09,703.61 542.82,702.93 543.55,702.25 544.27,701.56 544.98,700.87 545.69,700.17 546.4,699.47 547.1,698.76 547.8,698.04 548.49,697.32 549.18,696.6 549.86,695.87 550.54,695.13 551.21,694.4 551.88,693.65 552.55,692.9 553.21,692.15 553.86,691.39 554.51,690.63 555.15,689.86 555.79,689.09 556.43,688.32 557.06,687.54 557.68,686.76 558.3,685.97 558.92,685.18 559.53,684.38 560.13,683.58 560.73,682.78 561.33,681.98 561.92,681.17 562.51,680.35 563.09,679.54 563.67,678.72 564.24,677.89 564.8,677.07 565.37,676.24 565.92,675.4 566.47,674.57 567.02,673.73 567.56,672.89 568.1,672.04 568.63,671.19 569.16,670.34 569.68,669.49 570.2,668.64 570.72,667.78 571.22,666.92 571.73,666.05 572.23,665.19 572.72,664.32 573.21,663.45 573.7,662.58 574.18,661.7 574.65,660.82 575.13,659.94 575.59,659.06 576.06,658.17 576.51,657.29 576.97,656.4 577.42,655.51 577.86,654.61 578.31,653.72 578.74,652.82 579.17,651.92 579.6,651.01 580.03,650.11 580.45,649.2 580.86,648.29 581.28,647.38 581.69,646.47 582.09,645.56 582.49,644.64 582.89,643.72 583.28,642.8 583.67,641.88 584.05,640.96 584.44,640.03 584.81,639.1 585.19,638.17 585.56,637.24 585.92,636.31 586.29,635.38 586.65,634.44 587,633.5 587.35,632.57 587.7,631.63 588.05,630.68 588.39,629.74 588.73,628.8 589.06,627.85 589.4,626.9 589.72,625.96 590.05,625.01 590.37,624.06 590.69,623.1 591.01,622.15 591.32,621.2 591.63,620.24 591.93,619.28 592.24,618.33 592.54,617.37 592.84,616.41 593.13,615.45 593.42,614.48 593.71,613.52 594,612.56 594.28,611.59 594.56,610.63 594.84,609.66 595.11,608.69 595.39,607.72 595.65,606.75 595.92,605.79 596.19,604.81 596.45,603.84 596.71,602.87 596.96,601.9 597.22,600.93 597.47,599.95 597.72,598.98 597.97,598.01 598.21,597.03 598.46,596.06 598.7,595.08 598.93,594.1 599.17,593.13 599.4,592.15 599.64,591.17 599.87,590.2 600.09,589.22 600.32,588.24 600.54,587.26 600.76,586.28 600.98,585.31 601.2,584.33 601.42,583.35 601.63,582.37 601.84,581.39 602.05,580.41 602.26,579.43 602.47,578.46 602.68,577.48 602.88,576.5 603.08,575.52 603.28,574.54 603.48,573.57 603.68,572.59 603.87,571.61 604.07,570.63 604.26,569.66 604.45,568.68 604.64,567.7 604.83,566.73 605.02,565.75 605.21,564.78 605.39,563.81 605.58,562.83 605.76,561.86 605.94,560.89 606.12,559.92 606.3,558.94 606.48,557.97 606.66,557 606.84,556.03 607.01,555.07 607.19,554.1 607.36,553.13 607.3,553 676.9,553 676.92,756.4 675.91,756.43 674.91,756.46 673.9,756.48 672.9,756.51 671.89,756.53 670.89,756.56 669.88,756.58 668.88,756.6 667.87,756.62 666.87,756.64 665.86,756.65 664.86,756.67 663.86,756.68 662.85,756.69 661.85,756.7 660.84,756.71 659.84,756.72 658.84,756.73 657.83,756.74 656.83,756.74 655.83,756.75 654.82,756.75 653.82,756.75 652.82,756.75 651.81,756.75 650.81,756.75 649.81,756.74 648.81,756.74 647.8,756.73 646.8,756.73 645.8,756.72 644.8,756.71 643.79,756.7 642.79,756.69 641.79,756.68 640.79,756.66 639.78,756.65 638.78,756.63 637.78,756.62 636.78,756.6 635.78,756.58 634.77,756.56 633.77,756.54 632.77,756.52 631.77,756.49 630.77,756.47 629.77,756.44 628.77,756.42 627.76,756.39 626.76,756.36 625.76,756.33 624.76,756.3 623.76,756.27 622.76,756.24 621.76,756.21 620.76,756.17 619.76,756.14 618.76,756.1 617.76,756.07 616.75,756.03 615.75,755.99 614.75,755.95 613.75,755.91 612.75,755.87 611.75,755.83 610.75,755.78 609.75,755.74 608.75,755.69 607.75,755.65 606.75,755.6 605.75,755.55 604.75,755.51 603.75,755.46 602.75,755.41 601.75,755.36 600.75,755.3 599.75,755.25 598.75,755.2 597.75,755.15 596.76,755.09 595.76,755.04 594.76,754.98 593.76,754.92 592.76,754.86 591.76,754.81 590.76,754.75 589.76,754.69 588.76,754.63 587.76,754.56 586.76,754.5 585.76,754.44 584.77,754.38 583.77,754.31 582.77,754.25 581.77,754.18 580.77,754.12 579.77,754.05 578.77,753.98 577.77,753.91 576.78,753.85 575.78,753.78 574.78,753.71 573.78,753.64 572.78,753.57 571.78,753.49 570.78,753.42 569.79,753.35 568.79,753.28 567.79,753.2 566.79,753.13 565.79,753.05 564.79,752.98 563.8,752.9 562.8,752.83 561.8,752.75 560.8,752.67 559.8,752.59 558.81,752.51 557.81,752.44 556.81,752.36 555.81,752.28 554.81,752.2 553.82,752.12 552.82,752.03 551.82,751.95 550.82,751.87 549.83,751.79 548.83,751.7 547.83,751.62 546.83,751.54 545.83,751.45 544.84,751.37 543.84,751.28 542.84,751.2 541.84,751.11 540.85,751.03 539.85,750.94 538.85,750.85 537.85,750.77 536.86,750.68 535.86,750.59 534.86,750.5 533.86,750.42 532.87,750.33 531.87,750.24 530.87,750.15 529.87,750.06 528.88,749.97 527.88,749.88 526.88,749.79 525.88,749.7 524.89,749.61 523.89,749.52 522.89,749.43 521.89,749.34 520.9,749.25 519.9,749.16 518.9,749.06 517.9,748.97 516.91,748.88 515.91,748.79 514.91,748.69 513.91,748.6 512.92,748.51 511.92,748.42 510.92,748.32 509.92,748.23 508.93,748.14 507.93,748.04 506.93,747.95 505.93,747.86 504.94,747.76 503.94,747.67 502.94,747.58 501.95,747.48 500.95,747.39 499.95,747.3 498.95,747.2 497.96,747.11 496.96,747.01 495.96,746.92 494.96,746.83 493.97,746.73 492.97,746.64 491.97,746.54 490.97,746.45 489.98,746.36 488.98,746.26 487.98,746.17 486.98,746.08 485.99,745.98 484.99,745.89 483.99,745.79 482.99,745.7 481.99,745.61 481,745.51 480,745.42 479,745.33 478,745.24 477.01,745.14 476.01,745.05 475.01,744.96 474.01,744.87 473.02,744.77 472.02,744.68 472.07,745.03 471.24,745.63 470.41,746.2 469.56,746.75 468.71,747.28 467.85,747.8 466.98,748.29 466.11,748.76 465.23,749.22 464.34,749.66 463.44,750.08 462.54,750.48 461.63,750.87 460.72,751.24 459.8,751.59 458.87,751.93 457.94,752.25 457,752.55 456.06,752.85 455.11,753.12 454.15,753.39 453.2,753.63 452.23,753.87 451.27,754.09 450.29,754.3 449.32,754.5 448.34,754.69 447.36,754.86 446.37,755.03 445.38,755.18 444.38,755.32 443.39,755.45 442.39,755.58 441.38,755.69 440.38,755.8 439.37,755.89 438.36,755.98 437.35,756.06 436.34,756.13 435.32,756.2 434.3,756.26 433.29,756.31 432.27,756.36 431.25,756.4 430.23,756.44 429.2,756.47 428.18,756.5 427.16,756.52 426.14,756.54 425.11,756.56 424.09,756.57 423.07,756.59 422.05,756.59 421.03,756.6 420.01,756.61 418.99,756.61 417.97,756.62 416.95,756.62 415.94,756.63 414.93,756.63 413.92,756.64 412.91,756.64 411.9,756.65 410.9,756.66 409.9,756.67 408.9,756.69 407.9,756.71 406.91,756.73 405.92,756.75 404.94,756.78 403.96,756.82 402.98,756.86 402.01,756.9 401.04,756.95 400.07,757.01 399.11,757.07 398.16,757.14 397.21,757.21" fill="#ffb0b3"/>
<line x1="395.7" y1="745.11" x2="678" y2="745.11" stroke="#666666" stroke-width="1.7" stroke-dasharray="3.45 3.4"/>
<polyline points="397.5,756.07 398.5,756.09 399.5,756.1 400.5,756.1 401.5,756.09 402.5,756.09 403.5,756.07 404.5,756.05 405.5,756.03 406.5,756 407.5,755.96 408.5,755.92 409.5,755.87 410.5,755.82 411.5,755.77 412.5,755.7 413.5,755.64 414.5,755.56 415.5,755.49 416.5,755.41 417.5,755.32 418.5,755.23 419.5,755.13 420.5,755.03 421.5,754.92 422.5,754.81 423.5,754.69 424.5,754.57 425.5,754.45 426.5,754.32 427.5,754.18 428.5,754.04 429.5,753.9 430.5,753.75 431.5,753.6 432.5,753.44 433.5,753.28 434.5,753.11 435.5,752.94 436.5,752.77 437.5,752.59 438.5,752.41 439.5,752.22 440.5,752.03 441.5,751.84 442.5,751.64 443.5,751.43 444.5,751.23 445.5,751.02 446.5,750.8 447.5,750.58 448.5,750.36 449.5,750.14 450.5,749.91 451.5,749.67 452.5,749.44 453.5,749.2 454.5,748.95 455.5,748.7 456.5,748.45 457.5,748.2 458.5,747.95 459.5,747.69 460.5,747.43 461.5,747.18 462.5,746.92 463.5,746.66 464.5,746.4 465.5,746.14 466.5,745.88 467.5,745.62 468.5,745.37 469.5,745.11 470.5,744.86 471.5,744.61 472.5,744.37 473.5,744.13 474.5,743.89 475.5,743.65 476.5,743.42 477.5,743.2 478.5,742.98 479.5,742.76 480.5,742.55 481.5,742.35 482.5,742.15 483.5,741.96 484.5,741.78 485.5,741.61 486.5,741.44 487.5,741.27 488.5,741.12 489.5,740.97 490.5,740.82 491.5,740.68 492.5,740.55 493.5,740.43 494.5,740.3 495.5,740.19 496.5,740.08 497.5,739.97 498.5,739.87 499.5,739.78 500.5,739.69 501.5,739.6 502.5,739.52 503.5,739.45 504.5,739.38 505.5,739.31 506.5,739.25 507.5,739.19 508.5,739.13 509.5,739.08 510.5,739.03 511.5,738.99 512.5,738.95 513.5,738.91 514.5,738.88 515.5,738.85 516.5,738.82 517.5,738.79 518.5,738.77 519.5,738.75 520.5,738.73 521.5,738.72 522.5,738.71 523.5,738.7 524.5,738.69 525.5,738.68 526.5,738.68 527.5,738.67 528.5,738.67 529.5,738.67 530.5,738.67 531.5,738.68 532.5,738.68 533.5,738.69 534.5,738.69 535.5,738.7 536.5,738.7 537.5,738.71 538.5,738.72 539.5,738.73 540.5,738.73 541.5,738.74 542.5,738.75 543.5,738.76 544.5,738.76 545.5,738.77 546.5,738.78 547.5,738.78 548.5,738.79 549.5,738.79 550.5,738.8 551.5,738.8 552.5,738.8 553.5,738.81 554.5,738.81 555.5,738.81 556.5,738.81 557.5,738.81 558.5,738.81 559.5,738.81 560.5,738.81 561.5,738.81 562.5,738.81 563.5,738.81 564.5,738.8 565.5,738.8 566.5,738.8 567.5,738.79 568.5,738.79 569.5,738.78 570.5,738.78 571.5,738.77 572.5,738.77 573.5,738.76 574.5,738.76 575.5,738.75 576.5,738.74 577.5,738.73 578.5,738.73 579.5,738.72 580.5,738.71 581.5,738.7 582.5,738.69 583.5,738.68 584.5,738.67 585.5,738.66 586.5,738.65 587.5,738.64 588.5,738.63 589.5,738.61 590.5,738.6 591.5,738.59 592.5,738.58 593.5,738.56 594.5,738.55 595.5,738.54 596.5,738.52 597.5,738.51 598.5,738.5 599.5,738.48 600.5,738.47 601.5,738.45 602.5,738.44 603.5,738.42 604.5,738.41 605.5,738.39 606.5,738.38 607.5,738.36 608.5,738.34 609.5,738.33 610.5,738.31 611.5,738.29 612.5,738.28 613.5,738.26 614.5,738.24 615.5,738.22 616.5,738.21 617.5,738.19 618.5,738.17 619.5,738.15 620.5,738.13 621.5,738.12 622.5,738.1 623.5,738.08 624.5,738.06 625.5,738.04 626.5,738.02 627.5,738 628.5,737.99 629.5,737.97 630.5,737.95 631.5,737.93 632.5,737.91 633.5,737.89 634.5,737.87 635.5,737.85 636.5,737.83 637.5,737.81 638.5,737.79 639.5,737.77 640.5,737.75 641.5,737.73 642.5,737.71 643.5,737.69 644.5,737.67 645.5,737.65 646.5,737.64 647.5,737.62 648.5,737.6 649.5,737.58 650.5,737.56 651.5,737.54 652.5,737.52 653.5,737.5 654.5,737.48 655.5,737.46 656.5,737.44 657.5,737.42 658.5,737.4 659.5,737.39 660.5,737.37 661.5,737.35 662.5,737.33 663.5,737.31 664.5,737.29 665.5,737.27 666.5,737.26 667.5,737.24 668.5,737.22 669.5,737.2 670.5,737.19 671.5,737.17 672.5,737.15 673.5,737.13 674.5,737.12 675.5,737.1 676.5,737.08 677.5,737.07" fill="none" stroke="#d42a38" stroke-width="1.15" stroke-linejoin="round" stroke-linecap="round"/>
</g>
<rect x="395.7" y="559.6" width="285.6" height="199.4" fill="none" stroke="#b0b0b0" stroke-width="1.3"/>
<line x1="391.2" y1="757.3" x2="395.7" y2="757.3" stroke="#b0b0b0" stroke-width="1"/>
<text x="388.3" y="761" class="tl" text-anchor="end">0</text>
<line x1="391.2" y1="732.92" x2="395.7" y2="732.92" stroke="#b0b0b0" stroke-width="1"/>
<text x="388.3" y="736.62" class="tl" text-anchor="end">2</text>
<line x1="391.2" y1="708.55" x2="395.7" y2="708.55" stroke="#b0b0b0" stroke-width="1"/>
<text x="388.3" y="712.25" class="tl" text-anchor="end">4</text>
<line x1="391.2" y1="684.17" x2="395.7" y2="684.17" stroke="#b0b0b0" stroke-width="1"/>
<text x="388.3" y="687.88" class="tl" text-anchor="end">6</text>
<line x1="391.2" y1="659.8" x2="395.7" y2="659.8" stroke="#b0b0b0" stroke-width="1"/>
<text x="388.3" y="663.5" class="tl" text-anchor="end">8</text>
<line x1="391.2" y1="635.42" x2="395.7" y2="635.42" stroke="#b0b0b0" stroke-width="1"/>
<text x="388.3" y="639.12" class="tl" text-anchor="end">10</text>
<line x1="391.2" y1="611.05" x2="395.7" y2="611.05" stroke="#b0b0b0" stroke-width="1"/>
<text x="388.3" y="614.75" class="tl" text-anchor="end">12</text>
<line x1="391.2" y1="586.67" x2="395.7" y2="586.67" stroke="#b0b0b0" stroke-width="1"/>
<text x="388.3" y="590.38" class="tl" text-anchor="end">14</text>
<line x1="391.2" y1="562.3" x2="395.7" y2="562.3" stroke="#b0b0b0" stroke-width="1"/>
<text x="388.3" y="566" class="tl" text-anchor="end">16</text>
<line x1="397.2" y1="759" x2="397.2" y2="763.5" stroke="#b0b0b0" stroke-width="1"/>
<text x="397.2" y="774.8" class="tl" text-anchor="middle">2</text>
<line x1="444" y1="759" x2="444" y2="763.5" stroke="#b0b0b0" stroke-width="1"/>
<text x="444" y="774.8" class="tl" text-anchor="middle">5</text>
<line x1="490.8" y1="759" x2="490.8" y2="763.5" stroke="#b0b0b0" stroke-width="1"/>
<text x="490.8" y="774.8" class="tl" text-anchor="middle">8</text>
<line x1="537.6" y1="759" x2="537.6" y2="763.5" stroke="#b0b0b0" stroke-width="1"/>
<text x="537.6" y="774.8" class="tl" text-anchor="middle">11</text>
<line x1="584.4" y1="759" x2="584.4" y2="763.5" stroke="#b0b0b0" stroke-width="1"/>
<text x="584.4" y="774.8" class="tl" text-anchor="middle">14</text>
<line x1="631.2" y1="759" x2="631.2" y2="763.5" stroke="#b0b0b0" stroke-width="1"/>
<text x="631.2" y="774.8" class="tl" text-anchor="middle">17</text>
<line x1="678" y1="759" x2="678" y2="763.5" stroke="#b0b0b0" stroke-width="1"/>
<text x="678" y="774.8" class="tl" text-anchor="middle">20</text>
<g class="cR">
<text x="539.6" y="793.8" class="al" text-anchor="middle">FPG</text>
<text class="hr" text-anchor="middle" transform="translate(365.4,659.3) rotate(-90)">HR(95% CI)</text>
<text x="479.9" y="552.1" class="ti">Women, BMI&gt;=25.0</text>
<text x="356.6" y="552.5" class="le">F</text>
<text x="498.5" y="570.2" class="pv">P-overall=0.357</text>
<text x="498.5" y="579.1" class="pv">P-nonlinearity=0.337</text>
</g>
</svg>
</body></html>
